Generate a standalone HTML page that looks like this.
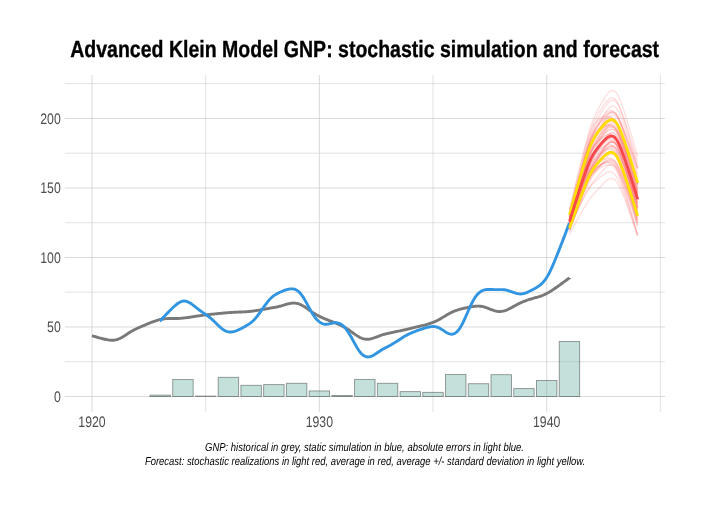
<!DOCTYPE html>
<html><head><meta charset="utf-8"><title>Advanced Klein Model GNP</title>
<style>
html,body{margin:0;padding:0;background:#fff;}
svg{display:block;}
text{font-family:"Liberation Sans",Arial,sans-serif;text-rendering:geometricPrecision;}
</style></head><body>
<svg width="705" height="508" viewBox="0 0 705 508">
<rect width="705" height="508" fill="#ffffff"/>

<g fill="none">
<line x1="64.8" x2="665.1" y1="396.50" y2="396.50" stroke="#cccccc" stroke-width="0.72"/>
<line x1="64.8" x2="665.1" y1="326.99" y2="326.99" stroke="#cccccc" stroke-width="0.72"/>
<line x1="64.8" x2="665.1" y1="257.48" y2="257.48" stroke="#cccccc" stroke-width="0.72"/>
<line x1="64.8" x2="665.1" y1="187.96" y2="187.96" stroke="#cccccc" stroke-width="0.72"/>
<line x1="64.8" x2="665.1" y1="118.45" y2="118.45" stroke="#cccccc" stroke-width="0.72"/>
<line x1="64.8" x2="665.1" y1="361.74" y2="361.74" stroke="#cccccc" stroke-width="0.55"/>
<line x1="64.8" x2="665.1" y1="292.23" y2="292.23" stroke="#cccccc" stroke-width="0.55"/>
<line x1="64.8" x2="665.1" y1="222.72" y2="222.72" stroke="#cccccc" stroke-width="0.55"/>
<line x1="64.8" x2="665.1" y1="153.21" y2="153.21" stroke="#cccccc" stroke-width="0.55"/>
<line x1="64.8" x2="665.1" y1="83.69" y2="83.69" stroke="#cccccc" stroke-width="0.55"/>
<line x1="92.00" x2="92.00" y1="75.0" y2="411.9" stroke="#cccccc" stroke-width="0.72"/>
<line x1="205.68" x2="205.68" y1="75.0" y2="411.9" stroke="#cccccc" stroke-width="0.55"/>
<line x1="319.35" x2="319.35" y1="75.0" y2="411.9" stroke="#cccccc" stroke-width="0.72"/>
<line x1="433.02" x2="433.02" y1="75.0" y2="411.9" stroke="#cccccc" stroke-width="0.55"/>
<line x1="546.70" x2="546.70" y1="75.0" y2="411.9" stroke="#cccccc" stroke-width="0.72"/>
<line x1="660.38" x2="660.38" y1="75.0" y2="411.9" stroke="#cccccc" stroke-width="0.55"/>
</g>
<g fill="rgba(105,179,162,0.4)" stroke="rgba(0,0,0,0.4)" stroke-width="0.9">
<rect x="149.97" y="395.11" width="20.46" height="1.39"/>
<rect x="172.71" y="379.54" width="20.46" height="16.96"/>
<rect x="195.44" y="396.08" width="20.46" height="0.42"/>
<rect x="218.18" y="377.31" width="20.46" height="19.19"/>
<rect x="240.91" y="385.31" width="20.46" height="11.19"/>
<rect x="263.65" y="384.61" width="20.46" height="11.89"/>
<rect x="286.38" y="383.29" width="20.46" height="13.21"/>
<rect x="309.12" y="390.94" width="20.46" height="5.56"/>
<rect x="331.85" y="395.53" width="20.46" height="0.97"/>
<rect x="354.59" y="379.40" width="20.46" height="17.10"/>
<rect x="377.32" y="383.29" width="20.46" height="13.21"/>
<rect x="400.06" y="391.63" width="20.46" height="4.87"/>
<rect x="422.79" y="392.33" width="20.46" height="4.17"/>
<rect x="445.53" y="374.40" width="20.46" height="22.10"/>
<rect x="468.26" y="383.71" width="20.46" height="12.79"/>
<rect x="491.00" y="374.67" width="20.46" height="21.83"/>
<rect x="513.73" y="388.58" width="20.46" height="7.92"/>
<rect x="536.47" y="380.51" width="20.46" height="15.99"/>
<rect x="559.20" y="341.45" width="20.46" height="55.05"/>
</g>
<path d="M92.00,335.75 L92.00,335.75 L92.04,335.76 L92.12,335.78 L92.28,335.83 L92.52,335.90 L92.86,336.01 L93.30,336.14 L93.86,336.31 L94.53,336.50 L95.31,336.73 L96.17,336.98 L97.13,337.25 L98.15,337.54 L99.22,337.83 L100.34,338.13 L101.47,338.43 L102.61,338.72 L103.74,338.99 L104.85,339.25 L105.93,339.48 L106.98,339.69 L107.99,339.87 L108.95,340.02 L109.88,340.14 L110.76,340.22 L111.61,340.26 L112.42,340.26 L113.21,340.23 L113.98,340.16 L114.73,340.06 L115.49,339.91 L116.25,339.73 L117.01,339.52 L117.77,339.27 L118.52,338.98 L119.28,338.67 L120.04,338.32 L120.80,337.94 L121.56,337.54 L122.31,337.12 L123.07,336.67 L123.83,336.21 L124.59,335.74 L125.34,335.25 L126.10,334.76 L126.86,334.26 L127.62,333.77 L128.38,333.28 L129.13,332.79 L129.89,332.31 L130.65,331.84 L131.41,331.38 L132.17,330.94 L132.92,330.51 L133.68,330.09 L134.44,329.69 L135.20,329.31 L135.95,328.94 L136.71,328.59 L137.47,328.24 L138.23,327.90 L138.99,327.56 L139.74,327.23 L140.50,326.91 L141.26,326.58 L142.02,326.26 L142.77,325.93 L143.53,325.61 L144.29,325.29 L145.05,324.97 L145.81,324.64 L146.56,324.32 L147.32,324.00 L148.08,323.69 L148.84,323.37 L149.60,323.06 L150.35,322.75 L151.11,322.44 L151.87,322.14 L152.63,321.85 L153.38,321.57 L154.14,321.29 L154.90,321.02 L155.66,320.76 L156.42,320.51 L157.17,320.28 L157.93,320.06 L158.69,319.85 L159.45,319.66 L160.20,319.48 L160.96,319.32 L161.72,319.17 L162.48,319.05 L163.24,318.94 L163.99,318.84 L164.75,318.76 L165.51,318.69 L166.27,318.64 L167.03,318.60 L167.78,318.57 L168.54,318.55 L169.30,318.53 L170.06,318.53 L170.81,318.52 L171.57,318.52 L172.33,318.53 L173.09,318.53 L173.85,318.53 L174.60,318.53 L175.36,318.52 L176.12,318.51 L176.88,318.49 L177.64,318.47 L178.39,318.44 L179.15,318.40 L179.91,318.35 L180.67,318.30 L181.42,318.23 L182.18,318.16 L182.94,318.09 L183.70,318.01 L184.46,317.93 L185.21,317.84 L185.97,317.75 L186.73,317.66 L187.49,317.56 L188.24,317.45 L189.00,317.35 L189.76,317.24 L190.52,317.12 L191.28,317.01 L192.03,316.89 L192.79,316.77 L193.55,316.65 L194.31,316.53 L195.07,316.41 L195.82,316.29 L196.58,316.17 L197.34,316.05 L198.10,315.93 L198.85,315.82 L199.61,315.70 L200.37,315.59 L201.13,315.48 L201.89,315.38 L202.64,315.27 L203.40,315.17 L204.16,315.08 L204.92,314.98 L205.68,314.89 L206.43,314.80 L207.19,314.72 L207.95,314.63 L208.71,314.55 L209.46,314.46 L210.22,314.38 L210.98,314.30 L211.74,314.22 L212.50,314.15 L213.25,314.07 L214.01,313.99 L214.77,313.92 L215.53,313.84 L216.28,313.77 L217.04,313.70 L217.80,313.62 L218.56,313.55 L219.32,313.48 L220.07,313.41 L220.83,313.33 L221.59,313.26 L222.35,313.19 L223.11,313.12 L223.86,313.06 L224.62,312.99 L225.38,312.92 L226.14,312.86 L226.89,312.79 L227.65,312.73 L228.41,312.67 L229.17,312.61 L229.93,312.55 L230.68,312.50 L231.44,312.45 L232.20,312.40 L232.96,312.35 L233.71,312.31 L234.47,312.27 L235.23,312.23 L235.99,312.20 L236.75,312.17 L237.50,312.13 L238.26,312.10 L239.02,312.07 L239.78,312.04 L240.54,312.01 L241.29,311.98 L242.05,311.95 L242.81,311.92 L243.57,311.88 L244.32,311.84 L245.08,311.80 L245.84,311.75 L246.60,311.70 L247.36,311.64 L248.11,311.58 L248.87,311.51 L249.63,311.44 L250.39,311.36 L251.14,311.28 L251.90,311.19 L252.66,311.10 L253.42,311.00 L254.18,310.89 L254.93,310.79 L255.69,310.67 L256.45,310.56 L257.21,310.44 L257.97,310.32 L258.72,310.19 L259.48,310.06 L260.24,309.93 L261.00,309.80 L261.75,309.67 L262.51,309.53 L263.27,309.40 L264.03,309.26 L264.79,309.12 L265.54,308.99 L266.30,308.85 L267.06,308.72 L267.82,308.58 L268.58,308.45 L269.33,308.31 L270.09,308.18 L270.85,308.05 L271.61,307.92 L272.36,307.79 L273.12,307.66 L273.88,307.52 L274.64,307.39 L275.40,307.25 L276.15,307.11 L276.91,306.96 L277.67,306.79 L278.43,306.62 L279.18,306.43 L279.94,306.23 L280.70,306.03 L281.46,305.81 L282.22,305.59 L282.97,305.36 L283.73,305.12 L284.49,304.89 L285.25,304.66 L286.01,304.43 L286.76,304.21 L287.52,304.00 L288.28,303.80 L289.04,303.63 L289.79,303.47 L290.55,303.33 L291.31,303.22 L292.07,303.14 L292.83,303.09 L293.58,303.07 L294.34,303.09 L295.10,303.14 L295.86,303.23 L296.62,303.35 L297.37,303.52 L298.13,303.72 L298.89,303.96 L299.65,304.24 L300.40,304.56 L301.16,304.91 L301.92,305.29 L302.68,305.70 L303.44,306.14 L304.19,306.60 L304.95,307.09 L305.71,307.59 L306.47,308.11 L307.22,308.63 L307.98,309.17 L308.74,309.70 L309.50,310.24 L310.26,310.78 L311.01,311.31 L311.77,311.83 L312.53,312.34 L313.29,312.84 L314.05,313.33 L314.80,313.79 L315.56,314.25 L316.32,314.68 L317.08,315.10 L317.83,315.51 L318.59,315.90 L319.35,316.28 L320.11,316.66 L320.87,317.02 L321.62,317.38 L322.38,317.73 L323.14,318.07 L323.90,318.41 L324.65,318.73 L325.41,319.05 L326.17,319.36 L326.93,319.67 L327.69,319.97 L328.44,320.27 L329.20,320.56 L329.96,320.85 L330.72,321.14 L331.48,321.43 L332.23,321.72 L332.99,322.02 L333.75,322.32 L334.51,322.62 L335.26,322.92 L336.02,323.24 L336.78,323.55 L337.54,323.88 L338.30,324.22 L339.05,324.56 L339.81,324.91 L340.57,325.27 L341.33,325.64 L342.08,326.01 L342.84,326.40 L343.60,326.79 L344.36,327.20 L345.12,327.63 L345.87,328.07 L346.63,328.53 L347.39,329.01 L348.15,329.50 L348.91,330.01 L349.66,330.53 L350.42,331.07 L351.18,331.61 L351.94,332.16 L352.69,332.71 L353.45,333.27 L354.21,333.81 L354.97,334.35 L355.73,334.88 L356.48,335.39 L357.24,335.88 L358.00,336.35 L358.76,336.80 L359.52,337.21 L360.27,337.59 L361.03,337.94 L361.79,338.25 L362.55,338.52 L363.30,338.75 L364.06,338.94 L364.82,339.08 L365.58,339.19 L366.34,339.25 L367.09,339.27 L367.85,339.26 L368.61,339.20 L369.37,339.11 L370.12,338.99 L370.88,338.83 L371.64,338.65 L372.40,338.44 L373.16,338.22 L373.91,337.97 L374.67,337.71 L375.43,337.43 L376.19,337.15 L376.95,336.86 L377.70,336.57 L378.46,336.28 L379.22,336.00 L379.98,335.72 L380.73,335.45 L381.49,335.19 L382.25,334.94 L383.01,334.71 L383.77,334.48 L384.52,334.27 L385.28,334.07 L386.04,333.88 L386.80,333.70 L387.56,333.52 L388.31,333.35 L389.07,333.17 L389.83,333.00 L390.59,332.83 L391.34,332.66 L392.10,332.49 L392.86,332.33 L393.62,332.16 L394.38,332.00 L395.13,331.84 L395.89,331.68 L396.65,331.52 L397.41,331.36 L398.16,331.20 L398.92,331.05 L399.68,330.89 L400.44,330.73 L401.20,330.57 L401.95,330.41 L402.71,330.25 L403.47,330.08 L404.23,329.92 L404.99,329.75 L405.74,329.58 L406.50,329.41 L407.26,329.24 L408.02,329.06 L408.77,328.88 L409.53,328.70 L410.29,328.52 L411.05,328.33 L411.81,328.14 L412.56,327.95 L413.32,327.77 L414.08,327.58 L414.84,327.39 L415.59,327.21 L416.35,327.03 L417.11,326.85 L417.87,326.67 L418.63,326.49 L419.38,326.31 L420.14,326.13 L420.90,325.96 L421.66,325.78 L422.42,325.60 L423.17,325.41 L423.93,325.23 L424.69,325.03 L425.45,324.84 L426.20,324.63 L426.96,324.42 L427.72,324.21 L428.48,323.98 L429.24,323.74 L429.99,323.50 L430.75,323.24 L431.51,322.97 L432.27,322.69 L433.02,322.40 L433.78,322.09 L434.54,321.77 L435.30,321.44 L436.06,321.09 L436.81,320.72 L437.57,320.34 L438.33,319.95 L439.09,319.54 L439.85,319.12 L440.60,318.68 L441.36,318.24 L442.12,317.79 L442.88,317.33 L443.63,316.87 L444.39,316.41 L445.15,315.95 L445.91,315.49 L446.67,315.04 L447.42,314.59 L448.18,314.15 L448.94,313.73 L449.70,313.31 L450.46,312.91 L451.21,312.53 L451.97,312.16 L452.73,311.81 L453.49,311.47 L454.24,311.16 L455.00,310.86 L455.76,310.58 L456.52,310.32 L457.28,310.07 L458.03,309.83 L458.79,309.61 L459.55,309.39 L460.31,309.18 L461.06,308.98 L461.82,308.79 L462.58,308.60 L463.34,308.41 L464.10,308.23 L464.85,308.06 L465.61,307.89 L466.37,307.72 L467.13,307.56 L467.89,307.40 L468.64,307.25 L469.40,307.10 L470.16,306.96 L470.92,306.82 L471.67,306.70 L472.43,306.58 L473.19,306.48 L473.95,306.38 L474.71,306.30 L475.46,306.23 L476.22,306.18 L476.98,306.15 L477.74,306.13 L478.50,306.13 L479.25,306.16 L480.01,306.21 L480.77,306.28 L481.53,306.39 L482.28,306.52 L483.04,306.68 L483.80,306.87 L484.56,307.08 L485.32,307.31 L486.07,307.57 L486.83,307.84 L487.59,308.13 L488.35,308.43 L489.10,308.73 L489.86,309.04 L490.62,309.34 L491.38,309.64 L492.14,309.93 L492.89,310.20 L493.65,310.46 L494.41,310.70 L495.17,310.91 L495.93,311.09 L496.68,311.24 L497.44,311.36 L498.20,311.45 L498.96,311.49 L499.71,311.50 L500.47,311.48 L501.23,311.42 L501.99,311.32 L502.75,311.19 L503.50,311.03 L504.26,310.83 L505.02,310.60 L505.78,310.34 L506.53,310.05 L507.29,309.74 L508.05,309.40 L508.81,309.04 L509.57,308.67 L510.32,308.27 L511.08,307.87 L511.84,307.45 L512.60,307.03 L513.36,306.61 L514.11,306.18 L514.87,305.75 L515.63,305.33 L516.39,304.92 L517.14,304.52 L517.90,304.12 L518.66,303.74 L519.42,303.37 L520.18,303.01 L520.93,302.67 L521.69,302.34 L522.45,302.02 L523.21,301.71 L523.96,301.41 L524.72,301.11 L525.48,300.82 L526.24,300.54 L527.00,300.26 L527.75,300.00 L528.51,299.74 L529.27,299.49 L530.03,299.25 L530.79,299.01 L531.54,298.79 L532.30,298.56 L533.06,298.35 L533.82,298.13 L534.57,297.92 L535.33,297.71 L536.09,297.49 L536.85,297.27 L537.61,297.05 L538.36,296.82 L539.12,296.58 L539.88,296.34 L540.64,296.08 L541.40,295.81 L542.15,295.53 L542.91,295.23 L543.67,294.91 L544.43,294.58 L545.18,294.23 L545.94,293.87 L546.70,293.48 L547.46,293.08 L548.23,292.66 L549.02,292.20 L549.83,291.72 L550.68,291.19 L551.56,290.63 L552.48,290.03 L553.45,289.38 L554.46,288.70 L555.50,287.97 L556.59,287.22 L557.70,286.44 L558.83,285.63 L559.97,284.82 L561.10,284.00 L562.21,283.20 L563.29,282.42 L564.31,281.68 L565.26,280.98 L566.13,280.34 L566.90,279.78 L567.57,279.29 L568.13,278.87 L568.58,278.54 L568.92,278.29 L569.16,278.12 L569.31,278.00 L569.40,277.94 L569.43,277.92 L569.43,277.91" fill="none" stroke="#797979" stroke-width="2.9"/>
<path d="M160.20,320.87 L160.21,320.87 L160.24,320.83 L160.33,320.74 L160.48,320.57 L160.72,320.30 L161.06,319.93 L161.51,319.44 L162.07,318.83 L162.74,318.11 L163.51,317.27 L164.38,316.34 L165.33,315.33 L166.35,314.25 L167.43,313.13 L168.54,311.98 L169.67,310.83 L170.81,309.69 L171.94,308.58 L173.05,307.52 L174.14,306.52 L175.18,305.59 L176.19,304.74 L177.16,303.97 L178.08,303.29 L178.96,302.71 L179.81,302.21 L180.62,301.81 L181.41,301.50 L182.18,301.27 L182.94,301.13 L183.70,301.06 L184.46,301.06 L185.21,301.13 L185.97,301.27 L186.73,301.48 L187.49,301.74 L188.24,302.06 L189.00,302.44 L189.76,302.85 L190.52,303.32 L191.28,303.81 L192.03,304.34 L192.79,304.90 L193.55,305.47 L194.31,306.06 L195.07,306.66 L195.82,307.27 L196.58,307.88 L197.34,308.48 L198.10,309.08 L198.85,309.67 L199.61,310.25 L200.37,310.82 L201.13,311.37 L201.89,311.91 L202.64,312.43 L203.40,312.95 L204.16,313.46 L204.92,313.97 L205.68,314.48 L206.43,314.99 L207.19,315.52 L207.95,316.07 L208.71,316.65 L209.46,317.24 L210.22,317.86 L210.98,318.50 L211.74,319.16 L212.50,319.85 L213.25,320.55 L214.01,321.27 L214.77,322.00 L215.53,322.74 L216.28,323.49 L217.04,324.23 L217.80,324.97 L218.56,325.69 L219.32,326.40 L220.07,327.08 L220.83,327.74 L221.59,328.37 L222.35,328.95 L223.11,329.50 L223.86,330.00 L224.62,330.45 L225.38,330.84 L226.14,331.19 L226.89,331.47 L227.65,331.69 L228.41,331.85 L229.17,331.96 L229.93,332.01 L230.68,332.00 L231.44,331.95 L232.20,331.86 L232.96,331.72 L233.71,331.55 L234.47,331.34 L235.23,331.11 L235.99,330.85 L236.75,330.56 L237.50,330.25 L238.26,329.93 L239.02,329.59 L239.78,329.23 L240.54,328.87 L241.29,328.49 L242.05,328.10 L242.81,327.70 L243.57,327.30 L244.32,326.88 L245.08,326.46 L245.84,326.02 L246.60,325.57 L247.36,325.11 L248.11,324.63 L248.87,324.13 L249.63,323.61 L250.39,323.05 L251.14,322.47 L251.90,321.85 L252.66,321.18 L253.42,320.47 L254.18,319.71 L254.93,318.90 L255.69,318.05 L256.45,317.16 L257.21,316.22 L257.97,315.24 L258.72,314.23 L259.48,313.20 L260.24,312.14 L261.00,311.06 L261.75,309.97 L262.51,308.87 L263.27,307.78 L264.03,306.69 L264.79,305.62 L265.54,304.56 L266.30,303.54 L267.06,302.54 L267.82,301.58 L268.58,300.66 L269.33,299.79 L270.09,298.97 L270.85,298.20 L271.61,297.48 L272.36,296.81 L273.12,296.20 L273.88,295.64 L274.64,295.12 L275.40,294.64 L276.15,294.20 L276.91,293.78 L277.67,293.39 L278.43,293.01 L279.18,292.65 L279.94,292.30 L280.70,291.97 L281.46,291.64 L282.22,291.32 L282.97,291.01 L283.73,290.71 L284.49,290.42 L285.25,290.15 L286.01,289.89 L286.76,289.65 L287.52,289.44 L288.28,289.25 L289.04,289.09 L289.79,288.96 L290.55,288.88 L291.31,288.83 L292.07,288.84 L292.83,288.89 L293.58,289.01 L294.34,289.19 L295.10,289.43 L295.86,289.75 L296.62,290.15 L297.37,290.62 L298.13,291.19 L298.89,291.85 L299.65,292.60 L300.40,293.44 L301.16,294.36 L301.92,295.38 L302.68,296.47 L303.44,297.63 L304.19,298.85 L304.95,300.13 L305.71,301.45 L306.47,302.81 L307.22,304.19 L307.98,305.59 L308.74,306.99 L309.50,308.38 L310.26,309.75 L311.01,311.09 L311.77,312.39 L312.53,313.64 L313.29,314.84 L314.05,315.98 L314.80,317.04 L315.56,318.03 L316.32,318.95 L317.08,319.78 L317.83,320.54 L318.59,321.23 L319.35,321.84 L320.11,322.39 L320.87,322.87 L321.62,323.28 L322.38,323.62 L323.14,323.88 L323.90,324.07 L324.65,324.20 L325.41,324.26 L326.17,324.26 L326.93,324.21 L327.69,324.12 L328.44,323.99 L329.20,323.83 L329.96,323.65 L330.72,323.47 L331.48,323.28 L332.23,323.11 L332.99,322.95 L333.75,322.82 L334.51,322.72 L335.26,322.67 L336.02,322.67 L336.78,322.73 L337.54,322.85 L338.30,323.04 L339.05,323.30 L339.81,323.63 L340.57,324.03 L341.33,324.50 L342.08,325.04 L342.84,325.65 L343.60,326.32 L344.36,327.07 L345.12,327.90 L345.87,328.80 L346.63,329.79 L347.39,330.84 L348.15,331.97 L348.91,333.17 L349.66,334.42 L350.42,335.72 L351.18,337.05 L351.94,338.42 L352.69,339.81 L353.45,341.20 L354.21,342.60 L354.97,343.97 L355.73,345.32 L356.48,346.64 L357.24,347.90 L358.00,349.11 L358.76,350.25 L359.52,351.31 L360.27,352.29 L361.03,353.18 L361.79,353.97 L362.55,354.67 L363.30,355.27 L364.06,355.78 L364.82,356.18 L365.58,356.50 L366.34,356.73 L367.09,356.87 L367.85,356.93 L368.61,356.90 L369.37,356.81 L370.12,356.64 L370.88,356.41 L371.64,356.12 L372.40,355.78 L373.16,355.40 L373.91,354.98 L374.67,354.52 L375.43,354.04 L376.19,353.54 L376.95,353.03 L377.70,352.51 L378.46,351.99 L379.22,351.48 L379.98,350.97 L380.73,350.48 L381.49,350.00 L382.25,349.54 L383.01,349.09 L383.77,348.67 L384.52,348.26 L385.28,347.87 L386.04,347.48 L386.80,347.11 L387.56,346.73 L388.31,346.34 L389.07,345.95 L389.83,345.54 L390.59,345.13 L391.34,344.70 L392.10,344.26 L392.86,343.81 L393.62,343.35 L394.38,342.88 L395.13,342.40 L395.89,341.92 L396.65,341.43 L397.41,340.93 L398.16,340.43 L398.92,339.93 L399.68,339.43 L400.44,338.94 L401.20,338.45 L401.95,337.96 L402.71,337.48 L403.47,337.01 L404.23,336.55 L404.99,336.11 L405.74,335.67 L406.50,335.25 L407.26,334.85 L408.02,334.46 L408.77,334.08 L409.53,333.73 L410.29,333.38 L411.05,333.05 L411.81,332.74 L412.56,332.43 L413.32,332.13 L414.08,331.83 L414.84,331.54 L415.59,331.26 L416.35,330.98 L417.11,330.69 L417.87,330.42 L418.63,330.14 L419.38,329.87 L420.14,329.59 L420.90,329.33 L421.66,329.06 L422.42,328.81 L423.17,328.56 L423.93,328.31 L424.69,328.08 L425.45,327.86 L426.20,327.64 L426.96,327.45 L427.72,327.27 L428.48,327.10 L429.24,326.96 L429.99,326.83 L430.75,326.73 L431.51,326.65 L432.27,326.60 L433.02,326.57 L433.78,326.57 L434.54,326.62 L435.30,326.70 L436.06,326.84 L436.81,327.02 L437.57,327.26 L438.33,327.55 L439.09,327.89 L439.85,328.27 L440.60,328.69 L441.36,329.15 L442.12,329.63 L442.88,330.13 L443.63,330.64 L444.39,331.15 L445.15,331.66 L445.91,332.14 L446.67,332.59 L447.42,333.01 L448.18,333.38 L448.94,333.69 L449.70,333.93 L450.46,334.10 L451.21,334.18 L451.97,334.18 L452.73,334.08 L453.49,333.89 L454.24,333.59 L455.00,333.19 L455.76,332.69 L456.52,332.08 L457.28,331.37 L458.03,330.55 L458.79,329.61 L459.55,328.56 L460.31,327.41 L461.06,326.15 L461.82,324.79 L462.58,323.35 L463.34,321.83 L464.10,320.25 L464.85,318.61 L465.61,316.92 L466.37,315.21 L467.13,313.48 L467.89,311.75 L468.64,310.02 L469.40,308.33 L470.16,306.66 L470.92,305.05 L471.67,303.50 L472.43,302.01 L473.19,300.61 L473.95,299.29 L474.71,298.06 L475.46,296.93 L476.22,295.89 L476.98,294.95 L477.74,294.10 L478.50,293.34 L479.25,292.66 L480.01,292.06 L480.77,291.53 L481.53,291.08 L482.28,290.69 L483.04,290.36 L483.80,290.09 L484.56,289.88 L485.32,289.71 L486.07,289.59 L486.83,289.51 L487.59,289.45 L488.35,289.43 L489.10,289.43 L489.86,289.44 L490.62,289.47 L491.38,289.50 L492.14,289.54 L492.89,289.57 L493.65,289.61 L494.41,289.63 L495.17,289.65 L495.93,289.66 L496.68,289.67 L497.44,289.66 L498.20,289.65 L498.96,289.63 L499.71,289.61 L500.47,289.59 L501.23,289.59 L501.99,289.60 L502.75,289.63 L503.50,289.69 L504.26,289.77 L505.02,289.88 L505.78,290.01 L506.53,290.17 L507.29,290.36 L508.05,290.57 L508.81,290.79 L509.57,291.04 L510.32,291.30 L511.08,291.56 L511.84,291.84 L512.60,292.11 L513.36,292.38 L514.11,292.64 L514.87,292.89 L515.63,293.13 L516.39,293.34 L517.14,293.52 L517.90,293.68 L518.66,293.80 L519.42,293.88 L520.18,293.93 L520.93,293.93 L521.69,293.88 L522.45,293.80 L523.21,293.66 L523.96,293.48 L524.72,293.26 L525.48,293.00 L526.24,292.71 L527.00,292.40 L527.75,292.07 L528.51,291.73 L529.27,291.37 L530.03,291.01 L530.79,290.64 L531.54,290.26 L532.30,289.87 L533.06,289.48 L533.82,289.07 L534.57,288.66 L535.33,288.23 L536.09,287.79 L536.85,287.32 L537.61,286.84 L538.36,286.32 L539.12,285.78 L539.88,285.20 L540.64,284.57 L541.40,283.90 L542.15,283.18 L542.91,282.40 L543.67,281.57 L544.43,280.66 L545.18,279.68 L545.94,278.63 L546.70,277.49 L547.46,276.27 L548.23,274.94 L549.02,273.48 L549.83,271.88 L550.68,270.13 L551.56,268.22 L552.48,266.14 L553.45,263.90 L554.46,261.51 L555.50,258.97 L556.59,256.30 L557.70,253.52 L558.83,250.65 L559.97,247.74 L561.10,244.82 L562.21,241.94 L563.29,239.13 L564.31,236.45 L565.26,233.95 L566.13,231.65 L566.90,229.60 L567.57,227.83 L568.13,226.34 L568.58,225.15 L568.92,224.24 L569.16,223.59 L569.31,223.18 L569.40,222.96 L569.43,222.87 L569.43,222.86" fill="none" stroke="#3295e2" stroke-width="2.9"/>
<g fill="none" stroke="rgba(255,110,110,0.21)" stroke-width="1.4">
<path d="M569.43,234.32 L569.45,234.29 L569.56,234.10 L569.82,233.61 L570.29,232.74 L571.01,231.42 L571.97,229.65 L573.16,227.45 L574.56,224.89 L576.12,222.06 L577.77,219.06 L579.47,216.01 L581.17,213.00 L582.83,210.10 L584.41,207.38 L585.91,204.88 L587.31,202.62 L588.62,200.60 L589.85,198.81 L591.03,197.22 L592.17,195.80 L593.31,194.48 L594.44,193.24 L595.58,192.03 L596.72,190.82 L597.85,189.60 L598.99,188.37 L600.13,187.13 L601.26,185.88 L602.40,184.65 L603.54,183.45 L604.67,182.30 L605.81,181.25 L606.95,180.32 L608.08,179.54 L609.22,178.95 L610.36,178.58 L611.49,178.46 L612.63,178.63 L613.77,179.12 L614.90,179.94 L616.05,181.14 L617.22,182.75 L618.45,184.84 L619.76,187.43 L621.17,190.51 L622.66,194.07 L624.25,198.06 L625.90,202.41 L627.60,207.02 L629.30,211.73 L630.96,216.40 L632.51,220.83 L633.91,224.87 L635.11,228.35 L636.07,231.16 L636.78,233.26 L637.26,234.66 L637.52,235.44 L637.62,235.75 L637.64,235.80"/>
<path d="M569.43,225.42 L569.45,225.39 L569.56,225.17 L569.82,224.64 L570.29,223.69 L571.01,222.25 L571.97,220.32 L573.16,217.93 L574.56,215.15 L576.12,212.08 L577.77,208.83 L579.47,205.53 L581.17,202.28 L582.83,199.18 L584.41,196.27 L585.91,193.63 L587.31,191.26 L588.62,189.17 L589.85,187.35 L591.03,185.78 L592.17,184.43 L593.31,183.22 L594.44,182.13 L595.58,181.10 L596.72,180.12 L597.85,179.17 L598.99,178.23 L600.13,177.30 L601.26,176.39 L602.40,175.51 L603.54,174.67 L604.67,173.90 L605.81,173.21 L606.95,172.64 L608.08,172.22 L609.22,171.97 L610.36,171.94 L611.49,172.14 L612.63,172.62 L613.77,173.40 L614.90,174.51 L616.05,175.99 L617.22,177.90 L618.45,180.30 L619.76,183.20 L621.17,186.63 L622.66,190.55 L624.25,194.93 L625.90,199.68 L627.60,204.69 L629.30,209.82 L630.96,214.88 L632.51,219.69 L633.91,224.06 L635.11,227.83 L636.07,230.87 L636.78,233.14 L637.26,234.65 L637.52,235.50 L637.62,235.83 L637.64,235.88"/>
<path d="M569.43,226.07 L569.45,226.03 L569.56,225.76 L569.82,225.08 L570.29,223.87 L571.01,222.05 L571.97,219.60 L573.16,216.57 L574.56,213.05 L576.12,209.16 L577.77,205.06 L579.47,200.90 L581.17,196.81 L582.83,192.90 L584.41,189.27 L585.91,185.97 L587.31,183.04 L588.62,180.49 L589.85,178.30 L591.03,176.45 L592.17,174.88 L593.31,173.55 L594.44,172.38 L595.58,171.36 L596.72,170.43 L597.85,169.58 L598.99,168.79 L600.13,168.06 L601.26,167.37 L602.40,166.74 L603.54,166.16 L604.67,165.66 L605.81,165.25 L606.95,164.96 L608.08,164.80 L609.22,164.81 L610.36,165.01 L611.49,165.45 L612.63,166.14 L613.77,167.13 L614.90,168.46 L616.05,170.15 L617.22,172.29 L618.45,174.93 L619.76,178.11 L621.17,181.83 L622.66,186.08 L624.25,190.80 L625.90,195.92 L627.60,201.31 L629.30,206.81 L630.96,212.25 L632.51,217.41 L633.91,222.10 L635.11,226.13 L636.07,229.40 L636.78,231.83 L637.26,233.44 L637.52,234.35 L637.62,234.71 L637.64,234.76"/>
<path d="M569.43,232.00 L569.45,231.95 L569.56,231.64 L569.82,230.86 L570.29,229.45 L571.01,227.35 L571.97,224.52 L573.16,221.01 L574.56,216.94 L576.12,212.44 L577.77,207.70 L579.47,202.88 L581.17,198.15 L582.83,193.64 L584.41,189.44 L585.91,185.63 L587.31,182.25 L588.62,179.30 L589.85,176.78 L591.03,174.65 L592.17,172.85 L593.31,171.33 L594.44,170.01 L595.58,168.85 L596.72,167.83 L597.85,166.91 L598.99,166.08 L600.13,165.32 L601.26,164.62 L602.40,163.99 L603.54,163.42 L604.67,162.94 L605.81,162.55 L606.95,162.28 L608.08,162.14 L609.22,162.18 L610.36,162.41 L611.49,162.87 L612.63,163.59 L613.77,164.62 L614.90,165.98 L616.05,167.73 L617.22,169.95 L618.45,172.69 L619.76,175.98 L621.17,179.84 L622.66,184.24 L624.25,189.14 L625.90,194.45 L627.60,200.04 L629.30,205.75 L630.96,211.39 L632.51,216.74 L633.91,221.60 L635.11,225.79 L636.07,229.18 L636.78,231.70 L637.26,233.38 L637.52,234.31 L637.62,234.69 L637.64,234.74"/>
<path d="M569.43,228.13 L569.45,228.10 L569.56,227.87 L569.82,227.29 L570.29,226.26 L571.01,224.71 L571.97,222.63 L573.16,220.04 L574.56,217.03 L576.12,213.71 L577.77,210.19 L579.47,206.60 L581.17,203.06 L582.83,199.67 L584.41,196.49 L585.91,193.57 L587.31,190.93 L588.62,188.58 L589.85,186.51 L591.03,184.68 L592.17,183.05 L593.31,181.57 L594.44,180.17 L595.58,178.83 L596.72,177.51 L597.85,176.20 L598.99,174.88 L600.13,173.57 L601.26,172.26 L602.40,170.97 L603.54,169.72 L604.67,168.53 L605.81,167.45 L606.95,166.49 L608.08,165.69 L609.22,165.09 L610.36,164.72 L611.49,164.62 L612.63,164.82 L613.77,165.36 L614.90,166.26 L616.05,167.55 L617.22,169.30 L618.45,171.56 L619.76,174.35 L621.17,177.68 L622.66,181.52 L624.25,185.83 L625.90,190.52 L627.60,195.49 L629.30,200.57 L630.96,205.60 L632.51,210.39 L633.91,214.74 L635.11,218.49 L636.07,221.52 L636.78,223.79 L637.26,225.29 L637.52,226.13 L637.62,226.47 L637.64,226.52"/>
<path d="M569.43,230.11 L569.45,230.06 L569.56,229.77 L569.82,229.04 L570.29,227.72 L571.01,225.75 L571.97,223.10 L573.16,219.81 L574.56,215.99 L576.12,211.78 L577.77,207.32 L579.47,202.79 L581.17,198.34 L582.83,194.08 L584.41,190.11 L585.91,186.49 L587.31,183.26 L588.62,180.43 L589.85,177.97 L591.03,175.87 L592.17,174.06 L593.31,172.48 L594.44,171.07 L595.58,169.79 L596.72,168.61 L597.85,167.51 L598.99,166.47 L600.13,165.47 L601.26,164.53 L602.40,163.64 L603.54,162.80 L604.67,162.04 L605.81,161.38 L606.95,160.83 L608.08,160.42 L609.22,160.18 L610.36,160.14 L611.49,160.34 L612.63,160.80 L613.77,161.57 L614.90,162.67 L616.05,164.15 L617.22,166.07 L618.45,168.50 L619.76,171.45 L621.17,174.94 L622.66,178.94 L624.25,183.40 L625.90,188.25 L627.60,193.37 L629.30,198.61 L630.96,203.78 L632.51,208.70 L633.91,213.17 L635.11,217.02 L636.07,220.13 L636.78,222.45 L637.26,224.00 L637.52,224.86 L637.62,225.20 L637.64,225.26"/>
<path d="M569.43,225.40 L569.45,225.36 L569.56,225.08 L569.82,224.36 L570.29,223.08 L571.01,221.16 L571.97,218.57 L573.16,215.37 L574.56,211.65 L576.12,207.55 L577.77,203.22 L579.47,198.83 L581.17,194.51 L582.83,190.40 L584.41,186.57 L585.91,183.10 L587.31,180.02 L588.62,177.33 L589.85,175.04 L591.03,173.10 L592.17,171.48 L593.31,170.10 L594.44,168.92 L595.58,167.89 L596.72,167.00 L597.85,166.22 L598.99,165.52 L600.13,164.90 L601.26,164.34 L602.40,163.84 L603.54,163.41 L604.67,163.04 L605.81,162.76 L606.95,162.57 L608.08,162.49 L609.22,162.54 L610.36,162.74 L611.49,163.13 L612.63,163.72 L613.77,164.56 L614.90,165.68 L616.05,167.11 L617.22,168.92 L618.45,171.16 L619.76,173.86 L621.17,177.02 L622.66,180.63 L624.25,184.64 L625.90,188.99 L627.60,193.57 L629.30,198.26 L630.96,202.88 L632.51,207.27 L633.91,211.25 L635.11,214.69 L636.07,217.46 L636.78,219.53 L637.26,220.90 L637.52,221.67 L637.62,221.98 L637.64,222.02"/>
<path d="M569.43,230.38 L569.45,230.33 L569.56,230.04 L569.82,229.32 L570.29,228.01 L571.01,226.04 L571.97,223.41 L573.16,220.13 L574.56,216.33 L576.12,212.13 L577.77,207.70 L579.47,203.19 L581.17,198.76 L582.83,194.52 L584.41,190.57 L585.91,186.96 L587.31,183.75 L588.62,180.92 L589.85,178.48 L591.03,176.38 L592.17,174.57 L593.31,172.99 L594.44,171.59 L595.58,170.32 L596.72,169.16 L597.85,168.08 L598.99,167.07 L600.13,166.12 L601.26,165.21 L602.40,164.37 L603.54,163.58 L604.67,162.86 L605.81,162.22 L606.95,161.69 L608.08,161.29 L609.22,161.04 L610.36,160.96 L611.49,161.10 L612.63,161.47 L613.77,162.12 L614.90,163.07 L616.05,164.37 L617.22,166.08 L618.45,168.24 L619.76,170.87 L621.17,173.99 L622.66,177.58 L624.25,181.58 L625.90,185.94 L627.60,190.54 L629.30,195.24 L630.96,199.90 L632.51,204.32 L633.91,208.34 L635.11,211.80 L636.07,214.60 L636.78,216.69 L637.26,218.07 L637.52,218.85 L637.62,219.16 L637.64,219.21"/>
<path d="M569.43,226.43 L569.45,226.39 L569.56,226.12 L569.82,225.43 L570.29,224.21 L571.01,222.38 L571.97,219.91 L573.16,216.86 L574.56,213.30 L576.12,209.37 L577.77,205.23 L579.47,201.00 L581.17,196.85 L582.83,192.87 L584.41,189.16 L585.91,185.77 L587.31,182.74 L588.62,180.06 L589.85,177.74 L591.03,175.72 L592.17,173.97 L593.31,172.43 L594.44,171.03 L595.58,169.74 L596.72,168.53 L597.85,167.37 L598.99,166.26 L600.13,165.19 L601.26,164.16 L602.40,163.16 L603.54,162.22 L604.67,161.35 L605.81,160.57 L606.95,159.91 L608.08,159.38 L609.22,159.03 L610.36,158.88 L611.49,158.96 L612.63,159.30 L613.77,159.95 L614.90,160.92 L616.05,162.26 L617.22,164.04 L618.45,166.30 L619.76,169.06 L621.17,172.34 L622.66,176.10 L624.25,180.32 L625.90,184.90 L627.60,189.74 L629.30,194.70 L630.96,199.60 L632.51,204.25 L633.91,208.49 L635.11,212.14 L636.07,215.09 L636.78,217.28 L637.26,218.75 L637.52,219.57 L637.62,219.89 L637.64,219.94"/>
<path d="M569.43,230.16 L569.45,230.12 L569.56,229.85 L569.82,229.18 L570.29,227.98 L571.01,226.18 L571.97,223.76 L573.16,220.75 L574.56,217.24 L576.12,213.37 L577.77,209.27 L579.47,205.10 L581.17,200.97 L582.83,197.01 L584.41,193.29 L585.91,189.87 L587.31,186.78 L588.62,184.01 L589.85,181.56 L591.03,179.39 L592.17,177.44 L593.31,175.65 L594.44,173.95 L595.58,172.31 L596.72,170.69 L597.85,169.07 L598.99,167.45 L600.13,165.82 L601.26,164.19 L602.40,162.59 L603.54,161.03 L604.67,159.54 L605.81,158.16 L606.95,156.93 L608.08,155.89 L609.22,155.07 L610.36,154.52 L611.49,154.28 L612.63,154.39 L613.77,154.88 L614.90,155.78 L616.05,157.14 L617.22,159.02 L618.45,161.47 L619.76,164.52 L621.17,168.17 L622.66,172.40 L624.25,177.15 L625.90,182.34 L627.60,187.83 L629.30,193.46 L630.96,199.04 L632.51,204.34 L633.91,209.16 L635.11,213.32 L636.07,216.69 L636.78,219.20 L637.26,220.87 L637.52,221.80 L637.62,222.17 L637.64,222.23"/>
<path d="M569.43,221.18 L569.45,221.14 L569.56,220.86 L569.82,220.15 L570.29,218.87 L571.01,216.96 L571.97,214.38 L573.16,211.20 L574.56,207.49 L576.12,203.41 L577.77,199.10 L579.47,194.72 L581.17,190.42 L582.83,186.31 L584.41,182.50 L585.91,179.03 L587.31,175.96 L588.62,173.28 L589.85,170.99 L591.03,169.05 L592.17,167.42 L593.31,166.03 L594.44,164.83 L595.58,163.80 L596.72,162.90 L597.85,162.11 L598.99,161.40 L600.13,160.77 L601.26,160.21 L602.40,159.70 L603.54,159.26 L604.67,158.89 L605.81,158.60 L606.95,158.39 L608.08,158.28 L609.22,158.30 L610.36,158.47 L611.49,158.80 L612.63,159.34 L613.77,160.10 L614.90,161.13 L616.05,162.46 L617.22,164.15 L618.45,166.25 L619.76,168.78 L621.17,171.76 L622.66,175.15 L624.25,178.93 L625.90,183.03 L627.60,187.35 L629.30,191.77 L630.96,196.12 L632.51,200.26 L633.91,204.02 L635.11,207.26 L636.07,209.88 L636.78,211.83 L637.26,213.13 L637.52,213.86 L637.62,214.14 L637.64,214.19"/>
<path d="M569.43,229.62 L569.45,229.57 L569.56,229.26 L569.82,228.48 L570.29,227.08 L571.01,224.98 L571.97,222.15 L573.16,218.64 L574.56,214.56 L576.12,210.06 L577.77,205.30 L579.47,200.46 L581.17,195.69 L582.83,191.13 L584.41,186.87 L585.91,182.98 L587.31,179.49 L588.62,176.41 L589.85,173.73 L591.03,171.41 L592.17,169.39 L593.31,167.60 L594.44,165.97 L595.58,164.46 L596.72,163.04 L597.85,161.68 L598.99,160.35 L600.13,159.07 L601.26,157.82 L602.40,156.63 L603.54,155.49 L604.67,154.43 L605.81,153.48 L606.95,152.67 L608.08,152.03 L609.22,151.60 L610.36,151.40 L611.49,151.49 L612.63,151.90 L613.77,152.67 L614.90,153.83 L616.05,155.44 L617.22,157.56 L618.45,160.25 L619.76,163.55 L621.17,167.46 L622.66,171.96 L624.25,176.99 L625.90,182.46 L627.60,188.23 L629.30,194.15 L630.96,199.99 L632.51,205.55 L633.91,210.60 L635.11,214.96 L636.07,218.48 L636.78,221.10 L637.26,222.85 L637.52,223.83 L637.62,224.22 L637.64,224.28"/>
<path d="M569.43,226.02 L569.45,225.97 L569.56,225.69 L569.82,224.97 L570.29,223.67 L571.01,221.73 L571.97,219.12 L573.16,215.88 L574.56,212.11 L576.12,207.94 L577.77,203.54 L579.47,199.05 L581.17,194.62 L582.83,190.38 L584.41,186.40 L585.91,182.75 L587.31,179.46 L588.62,176.54 L589.85,173.96 L591.03,171.70 L592.17,169.70 L593.31,167.87 L594.44,166.18 L595.58,164.56 L596.72,162.98 L597.85,161.43 L598.99,159.89 L600.13,158.36 L601.26,156.84 L602.40,155.36 L603.54,153.93 L604.67,152.57 L605.81,151.33 L606.95,150.23 L608.08,149.32 L609.22,148.63 L610.36,148.20 L611.49,148.08 L612.63,148.31 L613.77,148.91 L614.90,149.93 L616.05,151.41 L617.22,153.41 L618.45,156.00 L619.76,159.20 L621.17,163.03 L622.66,167.44 L624.25,172.39 L625.90,177.79 L627.60,183.49 L629.30,189.34 L630.96,195.13 L632.51,200.63 L633.91,205.63 L635.11,209.95 L636.07,213.44 L636.78,216.04 L637.26,217.77 L637.52,218.74 L637.62,219.13 L637.64,219.19"/>
<path d="M569.43,222.03 L569.45,221.99 L569.56,221.74 L569.82,221.11 L570.29,219.98 L571.01,218.28 L571.97,216.00 L573.16,213.16 L574.56,209.86 L576.12,206.21 L577.77,202.35 L579.47,198.42 L581.17,194.54 L582.83,190.80 L584.41,187.31 L585.91,184.09 L587.31,181.18 L588.62,178.59 L589.85,176.29 L591.03,174.26 L592.17,172.44 L593.31,170.77 L594.44,169.19 L595.58,167.67 L596.72,166.17 L597.85,164.67 L598.99,163.16 L600.13,161.66 L601.26,160.15 L602.40,158.67 L603.54,157.23 L604.67,155.86 L605.81,154.60 L606.95,153.47 L608.08,152.52 L609.22,151.78 L610.36,151.30 L611.49,151.11 L612.63,151.25 L613.77,151.76 L614.90,152.65 L616.05,153.98 L617.22,155.79 L618.45,158.16 L619.76,161.10 L621.17,164.61 L622.66,168.67 L624.25,173.24 L625.90,178.21 L627.60,183.48 L629.30,188.87 L630.96,194.22 L632.51,199.30 L633.91,203.92 L635.11,207.91 L636.07,211.13 L636.78,213.54 L637.26,215.14 L637.52,216.03 L637.62,216.39 L637.64,216.44"/>
<path d="M569.43,219.05 L569.45,219.01 L569.56,218.73 L569.82,218.03 L570.29,216.78 L571.01,214.90 L571.97,212.37 L573.16,209.24 L574.56,205.59 L576.12,201.56 L577.77,197.29 L579.47,192.94 L581.17,188.65 L582.83,184.53 L584.41,180.67 L585.91,177.12 L587.31,173.92 L588.62,171.06 L589.85,168.53 L591.03,166.30 L592.17,164.31 L593.31,162.49 L594.44,160.79 L595.58,159.15 L596.72,157.55 L597.85,155.96 L598.99,154.38 L600.13,152.81 L601.26,151.25 L602.40,149.71 L603.54,148.22 L604.67,146.81 L605.81,145.50 L606.95,144.34 L608.08,143.35 L609.22,142.58 L610.36,142.06 L611.49,141.85 L612.63,141.96 L613.77,142.45 L614.90,143.33 L616.05,144.65 L617.22,146.48 L618.45,148.87 L619.76,151.84 L621.17,155.40 L622.66,159.53 L624.25,164.16 L625.90,169.21 L627.60,174.56 L629.30,180.04 L630.96,185.47 L632.51,190.64 L633.91,195.34 L635.11,199.39 L636.07,202.67 L636.78,205.11 L637.26,206.74 L637.52,207.65 L637.62,208.01 L637.64,208.07"/>
<path d="M569.43,221.12 L569.45,221.07 L569.56,220.76 L569.82,219.99 L570.29,218.61 L571.01,216.53 L571.97,213.74 L573.16,210.28 L574.56,206.26 L576.12,201.83 L577.77,197.14 L579.47,192.38 L581.17,187.70 L582.83,183.22 L584.41,179.05 L585.91,175.26 L587.31,171.87 L588.62,168.90 L589.85,166.34 L591.03,164.14 L592.17,162.26 L593.31,160.63 L594.44,159.19 L595.58,157.90 L596.72,156.73 L597.85,155.65 L598.99,154.65 L600.13,153.71 L601.26,152.83 L602.40,152.01 L603.54,151.25 L604.67,150.57 L605.81,149.97 L606.95,149.48 L608.08,149.13 L609.22,148.93 L610.36,148.91 L611.49,149.10 L612.63,149.55 L613.77,150.27 L614.90,151.31 L616.05,152.71 L617.22,154.53 L618.45,156.82 L619.76,159.62 L621.17,162.92 L622.66,166.71 L624.25,170.94 L625.90,175.54 L627.60,180.39 L629.30,185.35 L630.96,190.26 L632.51,194.92 L633.91,199.15 L635.11,202.80 L636.07,205.75 L636.78,207.95 L637.26,209.41 L637.52,210.23 L637.62,210.56 L637.64,210.61"/>
<path d="M569.43,218.94 L569.45,218.89 L569.56,218.63 L569.82,217.96 L570.29,216.77 L571.01,214.97 L571.97,212.56 L573.16,209.56 L574.56,206.08 L576.12,202.22 L577.77,198.15 L579.47,194.00 L581.17,189.90 L582.83,185.97 L584.41,182.29 L585.91,178.91 L587.31,175.86 L588.62,173.15 L589.85,170.76 L591.03,168.65 L592.17,166.78 L593.31,165.08 L594.44,163.49 L595.58,161.97 L596.72,160.50 L597.85,159.04 L598.99,157.60 L600.13,156.17 L601.26,154.75 L602.40,153.36 L603.54,152.01 L604.67,150.74 L605.81,149.57 L606.95,148.53 L608.08,147.65 L609.22,146.98 L610.36,146.54 L611.49,146.38 L612.63,146.53 L613.77,147.03 L614.90,147.90 L616.05,149.18 L617.22,150.93 L618.45,153.22 L619.76,156.05 L621.17,159.44 L622.66,163.35 L624.25,167.75 L625.90,172.55 L627.60,177.62 L629.30,182.83 L630.96,187.98 L632.51,192.87 L633.91,197.33 L635.11,201.17 L636.07,204.28 L636.78,206.59 L637.26,208.14 L637.52,209.00 L637.62,209.34 L637.64,209.39"/>
<path d="M569.43,221.54 L569.45,221.50 L569.56,221.21 L569.82,220.50 L570.29,219.21 L571.01,217.28 L571.97,214.69 L573.16,211.47 L574.56,207.73 L576.12,203.59 L577.77,199.22 L579.47,194.76 L581.17,190.37 L582.83,186.16 L584.41,182.23 L585.91,178.62 L587.31,175.37 L588.62,172.50 L589.85,169.97 L591.03,167.76 L592.17,165.81 L593.31,164.06 L594.44,162.44 L595.58,160.92 L596.72,159.46 L597.85,158.05 L598.99,156.67 L600.13,155.31 L601.26,153.98 L602.40,152.70 L603.54,151.46 L604.67,150.30 L605.81,149.23 L606.95,148.29 L608.08,147.50 L609.22,146.89 L610.36,146.51 L611.49,146.39 L612.63,146.55 L613.77,147.04 L614.90,147.89 L616.05,149.13 L617.22,150.82 L618.45,153.03 L619.76,155.76 L621.17,159.02 L622.66,162.80 L624.25,167.03 L625.90,171.65 L627.60,176.54 L629.30,181.55 L630.96,186.51 L632.51,191.23 L633.91,195.52 L635.11,199.21 L636.07,202.21 L636.78,204.44 L637.26,205.92 L637.52,206.75 L637.62,207.08 L637.64,207.13"/>
<path d="M569.43,223.25 L569.45,223.21 L569.56,222.92 L569.82,222.21 L570.29,220.94 L571.01,219.02 L571.97,216.44 L573.16,213.25 L574.56,209.52 L576.12,205.41 L577.77,201.05 L579.47,196.61 L581.17,192.22 L582.83,188.01 L584.41,184.05 L585.91,180.41 L587.31,177.12 L588.62,174.17 L589.85,171.56 L591.03,169.24 L592.17,167.16 L593.31,165.24 L594.44,163.43 L595.58,161.67 L596.72,159.93 L597.85,158.20 L598.99,156.45 L600.13,154.70 L601.26,152.95 L602.40,151.22 L603.54,149.54 L604.67,147.94 L605.81,146.46 L606.95,145.13 L608.08,144.00 L609.22,143.11 L610.36,142.51 L611.49,142.23 L612.63,142.32 L613.77,142.82 L614.90,143.76 L616.05,145.17 L617.22,147.14 L618.45,149.72 L619.76,152.93 L621.17,156.78 L622.66,161.24 L624.25,166.26 L625.90,171.73 L627.60,177.53 L629.30,183.47 L630.96,189.35 L632.51,194.95 L633.91,200.04 L635.11,204.44 L636.07,207.99 L636.78,210.64 L637.26,212.40 L637.52,213.39 L637.62,213.78 L637.64,213.84"/>
<path d="M569.43,228.02 L569.45,227.98 L569.56,227.68 L569.82,226.92 L570.29,225.56 L571.01,223.52 L571.97,220.77 L573.16,217.36 L574.56,213.39 L576.12,209.01 L577.77,204.36 L579.47,199.63 L581.17,194.95 L582.83,190.45 L584.41,186.23 L585.91,182.35 L587.31,178.83 L588.62,175.68 L589.85,172.89 L591.03,170.40 L592.17,168.16 L593.31,166.10 L594.44,164.15 L595.58,162.26 L596.72,160.41 L597.85,158.56 L598.99,156.72 L600.13,154.88 L601.26,153.04 L602.40,151.23 L603.54,149.47 L604.67,147.79 L605.81,146.22 L606.95,144.80 L608.08,143.57 L609.22,142.58 L610.36,141.86 L611.49,141.46 L612.63,141.42 L613.77,141.77 L614.90,142.55 L616.05,143.80 L617.22,145.58 L618.45,147.94 L619.76,150.92 L621.17,154.52 L622.66,158.69 L624.25,163.40 L625.90,168.55 L627.60,174.00 L629.30,179.60 L630.96,185.15 L632.51,190.43 L633.91,195.23 L635.11,199.38 L636.07,202.73 L636.78,205.24 L637.26,206.90 L637.52,207.83 L637.62,208.20 L637.64,208.26"/>
<path d="M569.43,226.91 L569.45,226.86 L569.56,226.56 L569.82,225.79 L570.29,224.42 L571.01,222.36 L571.97,219.58 L573.16,216.14 L574.56,212.13 L576.12,207.70 L577.77,203.01 L579.47,198.23 L581.17,193.52 L582.83,188.99 L584.41,184.74 L585.91,180.84 L587.31,177.31 L588.62,174.17 L589.85,171.39 L591.03,168.92 L592.17,166.73 L593.31,164.71 L594.44,162.82 L595.58,161.01 L596.72,159.24 L597.85,157.49 L598.99,155.75 L600.13,154.01 L601.26,152.29 L602.40,150.60 L603.54,148.97 L604.67,147.41 L605.81,145.97 L606.95,144.67 L608.08,143.57 L609.22,142.69 L610.36,142.09 L611.49,141.79 L612.63,141.86 L613.77,142.31 L614.90,143.19 L616.05,144.53 L617.22,146.42 L618.45,148.89 L619.76,151.98 L621.17,155.69 L622.66,159.99 L624.25,164.83 L625.90,170.11 L627.60,175.71 L629.30,181.45 L630.96,187.13 L632.51,192.54 L633.91,197.46 L635.11,201.70 L636.07,205.13 L636.78,207.69 L637.26,209.40 L637.52,210.35 L637.62,210.73 L637.64,210.79"/>
<path d="M569.43,227.84 L569.45,227.78 L569.56,227.42 L569.82,226.51 L570.29,224.87 L571.01,222.41 L571.97,219.10 L573.16,215.01 L574.56,210.25 L576.12,204.99 L577.77,199.45 L579.47,193.81 L581.17,188.27 L582.83,182.98 L584.41,178.05 L585.91,173.57 L587.31,169.58 L588.62,166.09 L589.85,163.08 L591.03,160.52 L592.17,158.34 L593.31,156.46 L594.44,154.82 L595.58,153.37 L596.72,152.10 L597.85,150.95 L598.99,149.92 L600.13,148.98 L601.26,148.13 L602.40,147.35 L603.54,146.65 L604.67,146.03 L605.81,145.50 L606.95,145.07 L608.08,144.77 L609.22,144.61 L610.36,144.62 L611.49,144.84 L612.63,145.28 L613.77,146.00 L614.90,147.03 L616.05,148.42 L617.22,150.23 L618.45,152.52 L619.76,155.31 L621.17,158.60 L622.66,162.39 L624.25,166.61 L625.90,171.20 L627.60,176.05 L629.30,181.01 L630.96,185.91 L632.51,190.56 L633.91,194.80 L635.11,198.44 L636.07,201.39 L636.78,203.59 L637.26,205.05 L637.52,205.87 L637.62,206.20 L637.64,206.25"/>
<path d="M569.43,222.76 L569.45,222.71 L569.56,222.40 L569.82,221.62 L570.29,220.23 L571.01,218.13 L571.97,215.30 L573.16,211.80 L574.56,207.73 L576.12,203.23 L577.77,198.48 L579.47,193.63 L581.17,188.86 L582.83,184.28 L584.41,180.00 L585.91,176.07 L587.31,172.55 L588.62,169.42 L589.85,166.67 L591.03,164.26 L592.17,162.14 L593.31,160.24 L594.44,158.48 L595.58,156.85 L596.72,155.29 L597.85,153.80 L598.99,152.36 L600.13,150.95 L601.26,149.59 L602.40,148.27 L603.54,147.01 L604.67,145.81 L605.81,144.71 L606.95,143.73 L608.08,142.89 L609.22,142.23 L610.36,141.77 L611.49,141.55 L612.63,141.60 L613.77,141.96 L614.90,142.65 L616.05,143.72 L617.22,145.23 L618.45,147.21 L619.76,149.70 L621.17,152.68 L622.66,156.15 L624.25,160.04 L625.90,164.30 L627.60,168.81 L629.30,173.44 L630.96,178.02 L632.51,182.38 L633.91,186.35 L635.11,189.77 L636.07,192.53 L636.78,194.60 L637.26,195.97 L637.52,196.74 L637.62,197.05 L637.64,197.10"/>
<path d="M569.43,224.49 L569.45,224.44 L569.56,224.14 L569.82,223.37 L570.29,221.99 L571.01,219.92 L571.97,217.14 L573.16,213.69 L574.56,209.67 L576.12,205.24 L577.77,200.55 L579.47,195.78 L581.17,191.07 L582.83,186.57 L584.41,182.36 L585.91,178.50 L587.31,175.04 L588.62,171.97 L589.85,169.28 L591.03,166.94 L592.17,164.89 L593.31,163.04 L594.44,161.36 L595.58,159.79 L596.72,158.31 L597.85,156.90 L598.99,155.53 L600.13,154.20 L601.26,152.91 L602.40,151.67 L603.54,150.48 L604.67,149.37 L605.81,148.35 L606.95,147.45 L608.08,146.69 L609.22,146.11 L610.36,145.74 L611.49,145.61 L612.63,145.75 L613.77,146.20 L614.90,146.99 L616.05,148.17 L617.22,149.78 L618.45,151.89 L619.76,154.50 L621.17,157.63 L622.66,161.26 L624.25,165.32 L625.90,169.76 L627.60,174.45 L629.30,179.27 L630.96,184.03 L632.51,188.56 L633.91,192.69 L635.11,196.24 L636.07,199.12 L636.78,201.26 L637.26,202.69 L637.52,203.49 L637.62,203.81 L637.64,203.85"/>
<path d="M569.43,223.64 L569.45,223.58 L569.56,223.24 L569.82,222.38 L570.29,220.84 L571.01,218.52 L571.97,215.40 L573.16,211.54 L574.56,207.05 L576.12,202.09 L577.77,196.85 L579.47,191.52 L581.17,186.28 L582.83,181.26 L584.41,176.58 L585.91,172.31 L587.31,168.48 L588.62,165.12 L589.85,162.19 L591.03,159.67 L592.17,157.49 L593.31,155.56 L594.44,153.84 L595.58,152.27 L596.72,150.82 L597.85,149.47 L598.99,148.19 L600.13,146.97 L601.26,145.81 L602.40,144.72 L603.54,143.69 L604.67,142.74 L605.81,141.89 L606.95,141.16 L608.08,140.58 L609.22,140.17 L610.36,139.97 L611.49,140.01 L612.63,140.32 L613.77,140.95 L614.90,141.94 L616.05,143.32 L617.22,145.16 L618.45,147.52 L619.76,150.43 L621.17,153.88 L622.66,157.86 L624.25,162.32 L625.90,167.17 L627.60,172.30 L629.30,177.55 L630.96,182.74 L632.51,187.68 L633.91,192.16 L635.11,196.03 L636.07,199.16 L636.78,201.49 L637.26,203.05 L637.52,203.91 L637.62,204.26 L637.64,204.31"/>
<path d="M569.43,224.83 L569.45,224.78 L569.56,224.44 L569.82,223.61 L570.29,222.12 L571.01,219.88 L571.97,216.87 L573.16,213.13 L574.56,208.79 L576.12,203.99 L577.77,198.91 L579.47,193.74 L581.17,188.64 L582.83,183.75 L584.41,179.18 L585.91,174.99 L587.31,171.22 L588.62,167.88 L589.85,164.94 L591.03,162.37 L592.17,160.10 L593.31,158.06 L594.44,156.18 L595.58,154.41 L596.72,152.73 L597.85,151.10 L598.99,149.52 L600.13,147.97 L601.26,146.46 L602.40,144.99 L603.54,143.58 L604.67,142.25 L605.81,141.03 L606.95,139.95 L608.08,139.03 L609.22,138.32 L610.36,137.84 L611.49,137.65 L612.63,137.77 L613.77,138.24 L614.90,139.11 L616.05,140.40 L617.22,142.20 L618.45,144.55 L619.76,147.48 L621.17,150.99 L622.66,155.05 L624.25,159.62 L625.90,164.60 L627.60,169.88 L629.30,175.28 L630.96,180.64 L632.51,185.73 L633.91,190.37 L635.11,194.37 L636.07,197.60 L636.78,200.01 L637.26,201.61 L637.52,202.51 L637.62,202.87 L637.64,202.92"/>
<path d="M569.43,221.45 L569.45,221.39 L569.56,221.01 L569.82,220.05 L570.29,218.34 L571.01,215.77 L571.97,212.31 L573.16,208.03 L574.56,203.05 L576.12,197.56 L577.77,191.76 L579.47,185.87 L581.17,180.08 L582.83,174.55 L584.41,169.40 L585.91,164.72 L587.31,160.55 L588.62,156.90 L589.85,153.76 L591.03,151.09 L592.17,148.81 L593.31,146.85 L594.44,145.13 L595.58,143.62 L596.72,142.26 L597.85,141.04 L598.99,139.92 L600.13,138.89 L601.26,137.94 L602.40,137.07 L603.54,136.28 L604.67,135.58 L605.81,134.98 L606.95,134.51 L608.08,134.18 L609.22,134.04 L610.36,134.10 L611.49,134.40 L612.63,134.99 L613.77,135.91 L614.90,137.19 L616.05,138.89 L617.22,141.09 L618.45,143.84 L619.76,147.19 L621.17,151.14 L622.66,155.67 L624.25,160.72 L625.90,166.19 L627.60,171.97 L629.30,177.89 L630.96,183.73 L632.51,189.28 L633.91,194.32 L635.11,198.66 L636.07,202.17 L636.78,204.79 L637.26,206.53 L637.52,207.51 L637.62,207.90 L637.64,207.95"/>
<path d="M569.43,214.95 L569.45,214.91 L569.56,214.60 L569.82,213.81 L570.29,212.41 L571.01,210.30 L571.97,207.47 L573.16,203.95 L574.56,199.87 L576.12,195.35 L577.77,190.59 L579.47,185.74 L581.17,180.97 L582.83,176.40 L584.41,172.14 L585.91,168.25 L587.31,164.77 L588.62,161.71 L589.85,159.05 L591.03,156.75 L592.17,154.76 L593.31,153.00 L594.44,151.43 L595.58,150.00 L596.72,148.68 L597.85,147.45 L598.99,146.29 L600.13,145.19 L601.26,144.15 L602.40,143.16 L603.54,142.23 L604.67,141.38 L605.81,140.61 L606.95,139.94 L608.08,139.41 L609.22,139.03 L610.36,138.82 L611.49,138.83 L612.63,139.08 L613.77,139.61 L614.90,140.44 L616.05,141.62 L617.22,143.21 L618.45,145.26 L619.76,147.78 L621.17,150.78 L622.66,154.24 L624.25,158.12 L625.90,162.35 L627.60,166.81 L629.30,171.39 L630.96,175.91 L632.51,180.22 L633.91,184.13 L635.11,187.50 L636.07,190.23 L636.78,192.26 L637.26,193.62 L637.52,194.37 L637.62,194.68 L637.64,194.72"/>
<path d="M569.43,221.31 L569.45,221.26 L569.56,220.94 L569.82,220.13 L570.29,218.67 L571.01,216.48 L571.97,213.53 L573.16,209.88 L574.56,205.63 L576.12,200.93 L577.77,195.97 L579.47,190.92 L581.17,185.93 L582.83,181.16 L584.41,176.70 L585.91,172.61 L587.31,168.93 L588.62,165.68 L589.85,162.82 L591.03,160.33 L592.17,158.14 L593.31,156.17 L594.44,154.36 L595.58,152.67 L596.72,151.06 L597.85,149.50 L598.99,147.99 L600.13,146.52 L601.26,145.08 L602.40,143.68 L603.54,142.35 L604.67,141.09 L605.81,139.95 L606.95,138.93 L608.08,138.09 L609.22,137.44 L610.36,137.03 L611.49,136.90 L612.63,137.09 L613.77,137.62 L614.90,138.54 L616.05,139.90 L617.22,141.75 L618.45,144.16 L619.76,147.14 L621.17,150.70 L622.66,154.83 L624.25,159.45 L625.90,164.50 L627.60,169.84 L629.30,175.31 L630.96,180.72 L632.51,185.87 L633.91,190.56 L635.11,194.60 L636.07,197.86 L636.78,200.30 L637.26,201.92 L637.52,202.83 L637.62,203.19 L637.64,203.25"/>
<path d="M569.43,220.97 L569.45,220.91 L569.56,220.54 L569.82,219.61 L570.29,217.95 L571.01,215.45 L571.97,212.09 L573.16,207.92 L574.56,203.08 L576.12,197.73 L577.77,192.09 L579.47,186.35 L581.17,180.71 L582.83,175.31 L584.41,170.29 L585.91,165.71 L587.31,161.63 L588.62,158.05 L589.85,154.96 L591.03,152.31 L592.17,150.04 L593.31,148.07 L594.44,146.34 L595.58,144.80 L596.72,143.42 L597.85,142.17 L598.99,141.02 L600.13,139.97 L601.26,138.99 L602.40,138.10 L603.54,137.27 L604.67,136.53 L605.81,135.88 L606.95,135.34 L608.08,134.93 L609.22,134.66 L610.36,134.57 L611.49,134.69 L612.63,135.05 L613.77,135.70 L614.90,136.65 L616.05,137.98 L617.22,139.74 L618.45,141.97 L619.76,144.72 L621.17,147.97 L622.66,151.72 L624.25,155.91 L625.90,160.46 L627.60,165.28 L629.30,170.21 L630.96,175.08 L632.51,179.71 L633.91,183.92 L635.11,187.55 L636.07,190.49 L636.78,192.68 L637.26,194.13 L637.52,194.95 L637.62,195.27 L637.64,195.32"/>
<path d="M569.43,213.73 L569.45,213.69 L569.56,213.42 L569.82,212.73 L570.29,211.50 L571.01,209.65 L571.97,207.15 L573.16,204.06 L574.56,200.46 L576.12,196.47 L577.77,192.25 L579.47,187.95 L581.17,183.70 L582.83,179.61 L584.41,175.76 L585.91,172.22 L587.31,169.00 L588.62,166.12 L589.85,163.54 L591.03,161.24 L592.17,159.16 L593.31,157.23 L594.44,155.39 L595.58,153.59 L596.72,151.80 L597.85,150.01 L598.99,148.20 L600.13,146.38 L601.26,144.56 L602.40,142.75 L603.54,140.99 L604.67,139.31 L605.81,137.73 L606.95,136.31 L608.08,135.07 L609.22,134.07 L610.36,133.34 L611.49,132.92 L612.63,132.87 L613.77,133.20 L614.90,133.95 L616.05,135.16 L617.22,136.89 L618.45,139.20 L619.76,142.10 L621.17,145.60 L622.66,149.68 L624.25,154.27 L625.90,159.29 L627.60,164.61 L629.30,170.07 L630.96,175.48 L632.51,180.63 L633.91,185.32 L635.11,189.36 L636.07,192.64 L636.78,195.08 L637.26,196.70 L637.52,197.61 L637.62,197.97 L637.64,198.03"/>
<path d="M569.43,224.77 L569.45,224.72 L569.56,224.38 L569.82,223.52 L570.29,221.97 L571.01,219.66 L571.97,216.54 L573.16,212.68 L574.56,208.18 L576.12,203.21 L577.77,197.95 L579.47,192.60 L581.17,187.31 L582.83,182.25 L584.41,177.50 L585.91,173.15 L587.31,169.22 L588.62,165.73 L589.85,162.66 L591.03,159.95 L592.17,157.56 L593.31,155.38 L594.44,153.37 L595.58,151.47 L596.72,149.65 L597.85,147.90 L598.99,146.18 L600.13,144.50 L601.26,142.86 L602.40,141.26 L603.54,139.73 L604.67,138.27 L605.81,136.92 L606.95,135.70 L608.08,134.64 L609.22,133.79 L610.36,133.17 L611.49,132.82 L612.63,132.79 L613.77,133.10 L614.90,133.79 L616.05,134.91 L617.22,136.52 L618.45,138.66 L619.76,141.37 L621.17,144.62 L622.66,148.42 L624.25,152.69 L625.90,157.36 L627.60,162.32 L629.30,167.41 L630.96,172.45 L632.51,177.25 L633.91,181.61 L635.11,185.38 L636.07,188.43 L636.78,190.70 L637.26,192.22 L637.52,193.07 L637.62,193.40 L637.64,193.46"/>
<path d="M569.43,222.52 L569.45,222.46 L569.56,222.10 L569.82,221.20 L570.29,219.57 L571.01,217.12 L571.97,213.84 L573.16,209.76 L574.56,205.02 L576.12,199.78 L577.77,194.24 L579.47,188.61 L581.17,183.05 L582.83,177.72 L584.41,172.75 L585.91,168.19 L587.31,164.09 L588.62,160.47 L589.85,157.29 L591.03,154.52 L592.17,152.08 L593.31,149.90 L594.44,147.90 L595.58,146.05 L596.72,144.30 L597.85,142.63 L598.99,141.02 L600.13,139.46 L601.26,137.96 L602.40,136.50 L603.54,135.12 L604.67,133.82 L605.81,132.62 L606.95,131.56 L608.08,130.65 L609.22,129.95 L610.36,129.47 L611.49,129.26 L612.63,129.36 L613.77,129.80 L614.90,130.63 L616.05,131.88 L617.22,133.63 L618.45,135.92 L619.76,138.79 L621.17,142.23 L622.66,146.21 L624.25,150.69 L625.90,155.58 L627.60,160.76 L629.30,166.08 L630.96,171.34 L632.51,176.34 L633.91,180.90 L635.11,184.82 L636.07,188.00 L636.78,190.37 L637.26,191.95 L637.52,192.83 L637.62,193.18 L637.64,193.23"/>
<path d="M569.43,216.92 L569.45,216.87 L569.56,216.52 L569.82,215.65 L570.29,214.09 L571.01,211.74 L571.97,208.59 L573.16,204.68 L574.56,200.13 L576.12,195.11 L577.77,189.80 L579.47,184.39 L581.17,179.07 L582.83,173.97 L584.41,169.20 L585.91,164.85 L587.31,160.93 L588.62,157.48 L589.85,154.45 L591.03,151.83 L592.17,149.53 L593.31,147.47 L594.44,145.61 L595.58,143.90 L596.72,142.30 L597.85,140.80 L598.99,139.37 L600.13,138.00 L601.26,136.68 L602.40,135.42 L603.54,134.23 L604.67,133.11 L605.81,132.09 L606.95,131.18 L608.08,130.41 L609.22,129.80 L610.36,129.39 L611.49,129.20 L612.63,129.28 L613.77,129.65 L614.90,130.35 L616.05,131.43 L617.22,132.94 L618.45,134.92 L619.76,137.41 L621.17,140.39 L622.66,143.85 L624.25,147.75 L625.90,152.00 L627.60,156.50 L629.30,161.12 L630.96,165.69 L632.51,170.04 L633.91,174.00 L635.11,177.42 L636.07,180.18 L636.78,182.24 L637.26,183.62 L637.52,184.38 L637.62,184.69 L637.64,184.74"/>
<path d="M569.43,217.64 L569.45,217.58 L569.56,217.24 L569.82,216.37 L570.29,214.82 L571.01,212.48 L571.97,209.34 L573.16,205.44 L574.56,200.90 L576.12,195.89 L577.77,190.60 L579.47,185.21 L581.17,179.89 L582.83,174.79 L584.41,170.03 L585.91,165.66 L587.31,161.73 L588.62,158.25 L589.85,155.20 L591.03,152.52 L592.17,150.17 L593.31,148.05 L594.44,146.10 L595.58,144.28 L596.72,142.53 L597.85,140.85 L598.99,139.21 L600.13,137.60 L601.26,136.03 L602.40,134.51 L603.54,133.06 L604.67,131.69 L605.81,130.43 L606.95,129.31 L608.08,128.38 L609.22,127.66 L610.36,127.20 L611.49,127.03 L612.63,127.20 L613.77,127.75 L614.90,128.71 L616.05,130.14 L617.22,132.09 L618.45,134.64 L619.76,137.80 L621.17,141.59 L622.66,145.97 L624.25,150.88 L625.90,156.25 L627.60,161.92 L629.30,167.74 L630.96,173.50 L632.51,178.98 L633.91,183.96 L635.11,188.25 L636.07,191.73 L636.78,194.32 L637.26,196.05 L637.52,197.01 L637.62,197.40 L637.64,197.45"/>
<path d="M569.43,221.09 L569.45,221.04 L569.56,220.65 L569.82,219.68 L570.29,217.95 L571.01,215.33 L571.97,211.83 L573.16,207.48 L574.56,202.42 L576.12,196.84 L577.77,190.94 L579.47,184.93 L581.17,179.02 L582.83,173.37 L584.41,168.09 L585.91,163.27 L587.31,158.95 L588.62,155.15 L589.85,151.84 L591.03,148.98 L592.17,146.49 L593.31,144.29 L594.44,142.32 L595.58,140.54 L596.72,138.91 L597.85,137.39 L598.99,135.98 L600.13,134.65 L601.26,133.39 L602.40,132.20 L603.54,131.09 L604.67,130.06 L605.81,129.12 L606.95,128.30 L608.08,127.61 L609.22,127.09 L610.36,126.75 L611.49,126.63 L612.63,126.77 L613.77,127.20 L614.90,127.96 L616.05,129.11 L617.22,130.70 L618.45,132.77 L619.76,135.35 L621.17,138.45 L622.66,142.04 L624.25,146.07 L625.90,150.46 L627.60,155.12 L629.30,159.89 L630.96,164.62 L632.51,169.12 L633.91,173.21 L635.11,176.74 L636.07,179.59 L636.78,181.72 L637.26,183.13 L637.52,183.93 L637.62,184.24 L637.64,184.29"/>
<path d="M569.43,219.53 L569.45,219.48 L569.56,219.16 L569.82,218.36 L570.29,216.92 L571.01,214.76 L571.97,211.85 L573.16,208.24 L574.56,204.04 L576.12,199.38 L577.77,194.46 L579.47,189.42 L581.17,184.45 L582.83,179.66 L584.41,175.15 L585.91,170.98 L587.31,167.19 L588.62,163.78 L589.85,160.72 L591.03,157.97 L592.17,155.46 L593.31,153.12 L594.44,150.87 L595.58,148.67 L596.72,146.49 L597.85,144.30 L598.99,142.10 L600.13,139.88 L601.26,137.66 L602.40,135.47 L603.54,133.32 L604.67,131.25 L605.81,129.30 L606.95,127.50 L608.08,125.91 L609.22,124.56 L610.36,123.51 L611.49,122.79 L612.63,122.45 L613.77,122.53 L614.90,123.05 L616.05,124.05 L617.22,125.61 L618.45,127.76 L619.76,130.52 L621.17,133.90 L622.66,137.87 L624.25,142.36 L625.90,147.30 L627.60,152.54 L629.30,157.93 L630.96,163.28 L632.51,168.38 L633.91,173.02 L635.11,177.03 L636.07,180.27 L636.78,182.69 L637.26,184.31 L637.52,185.21 L637.62,185.57 L637.64,185.62"/>
<path d="M569.43,223.40 L569.45,223.33 L569.56,222.91 L569.82,221.85 L570.29,219.94 L571.01,217.08 L571.97,213.23 L573.16,208.46 L574.56,202.92 L576.12,196.81 L577.77,190.35 L579.47,183.79 L581.17,177.33 L582.83,171.16 L584.41,165.42 L585.91,160.19 L587.31,155.53 L588.62,151.45 L589.85,147.92 L591.03,144.91 L592.17,142.33 L593.31,140.10 L594.44,138.14 L595.58,136.40 L596.72,134.84 L597.85,133.42 L598.99,132.13 L600.13,130.94 L601.26,129.83 L602.40,128.82 L603.54,127.89 L604.67,127.06 L605.81,126.34 L606.95,125.74 L608.08,125.30 L609.22,125.04 L610.36,124.99 L611.49,125.20 L612.63,125.70 L613.77,126.53 L614.90,127.74 L616.05,129.39 L617.22,131.56 L618.45,134.30 L619.76,137.66 L621.17,141.62 L622.66,146.18 L624.25,151.28 L625.90,156.82 L627.60,162.66 L629.30,168.65 L630.96,174.56 L632.51,180.18 L633.91,185.29 L635.11,189.69 L636.07,193.25 L636.78,195.91 L637.26,197.67 L637.52,198.66 L637.62,199.05 L637.64,199.11"/>
<path d="M569.43,220.71 L569.45,220.65 L569.56,220.29 L569.82,219.39 L570.29,217.77 L571.01,215.33 L571.97,212.05 L573.16,207.99 L574.56,203.26 L576.12,198.03 L577.77,192.49 L579.47,186.85 L581.17,181.28 L582.83,175.94 L584.41,170.92 L585.91,166.32 L587.31,162.16 L588.62,158.45 L589.85,155.17 L591.03,152.27 L592.17,149.68 L593.31,147.31 L594.44,145.09 L595.58,142.97 L596.72,140.92 L597.85,138.90 L598.99,136.91 L600.13,134.93 L601.26,132.98 L602.40,131.07 L603.54,129.22 L604.67,127.46 L605.81,125.82 L606.95,124.34 L608.08,123.06 L609.22,122.03 L610.36,121.29 L611.49,120.88 L612.63,120.84 L613.77,121.23 L614.90,122.07 L616.05,123.42 L617.22,125.35 L618.45,127.91 L619.76,131.13 L621.17,135.01 L622.66,139.53 L624.25,144.61 L625.90,150.17 L627.60,156.07 L629.30,162.12 L630.96,168.11 L632.51,173.82 L633.91,179.01 L635.11,183.49 L636.07,187.12 L636.78,189.82 L637.26,191.62 L637.52,192.63 L637.62,193.03 L637.64,193.09"/>
<path d="M569.43,219.83 L569.45,219.77 L569.56,219.40 L569.82,218.47 L570.29,216.81 L571.01,214.30 L571.97,210.93 L573.16,206.76 L574.56,201.90 L576.12,196.54 L577.77,190.87 L579.47,185.10 L581.17,179.41 L582.83,173.97 L584.41,168.88 L585.91,164.22 L587.31,160.04 L588.62,156.34 L589.85,153.10 L591.03,150.29 L592.17,147.82 L593.31,145.61 L594.44,143.60 L595.58,141.75 L596.72,140.00 L597.85,138.33 L598.99,136.73 L600.13,135.19 L601.26,133.70 L602.40,132.26 L603.54,130.90 L604.67,129.62 L605.81,128.45 L606.95,127.42 L608.08,126.55 L609.22,125.88 L610.36,125.46 L611.49,125.30 L612.63,125.47 L613.77,125.98 L614.90,126.90 L616.05,128.25 L617.22,130.12 L618.45,132.55 L619.76,135.58 L621.17,139.20 L622.66,143.39 L624.25,148.10 L625.90,153.24 L627.60,158.68 L629.30,164.25 L630.96,169.77 L632.51,175.02 L633.91,179.79 L635.11,183.91 L636.07,187.24 L636.78,189.72 L637.26,191.37 L637.52,192.30 L637.62,192.67 L637.64,192.72"/>
<path d="M569.43,217.77 L569.45,217.71 L569.56,217.31 L569.82,216.31 L570.29,214.52 L571.01,211.84 L571.97,208.23 L573.16,203.75 L574.56,198.54 L576.12,192.80 L577.77,186.73 L579.47,180.55 L581.17,174.47 L582.83,168.65 L584.41,163.23 L585.91,158.27 L587.31,153.84 L588.62,149.94 L589.85,146.55 L591.03,143.62 L592.17,141.08 L593.31,138.84 L594.44,136.84 L595.58,135.02 L596.72,133.34 L597.85,131.77 L598.99,130.30 L600.13,128.90 L601.26,127.57 L602.40,126.31 L603.54,125.13 L604.67,124.05 L605.81,123.07 L606.95,122.22 L608.08,121.54 L609.22,121.05 L610.36,120.80 L611.49,120.80 L612.63,121.12 L613.77,121.78 L614.90,122.84 L616.05,124.34 L617.22,126.37 L618.45,128.96 L619.76,132.17 L621.17,135.98 L622.66,140.38 L624.25,145.30 L625.90,150.67 L627.60,156.34 L629.30,162.15 L630.96,167.90 L632.51,173.37 L633.91,178.34 L635.11,182.63 L636.07,186.09 L636.78,188.67 L637.26,190.39 L637.52,191.36 L637.62,191.74 L637.64,191.80"/>
<path d="M569.43,222.76 L569.45,222.70 L569.56,222.30 L569.82,221.28 L570.29,219.45 L571.01,216.70 L571.97,213.01 L573.16,208.43 L574.56,203.11 L576.12,197.23 L577.77,191.02 L579.47,184.71 L581.17,178.49 L582.83,172.54 L584.41,166.99 L585.91,161.93 L587.31,157.39 L588.62,153.40 L589.85,149.93 L591.03,146.94 L592.17,144.35 L593.31,142.06 L594.44,140.01 L595.58,138.16 L596.72,136.47 L597.85,134.90 L598.99,133.43 L600.13,132.05 L601.26,130.75 L602.40,129.52 L603.54,128.37 L604.67,127.31 L605.81,126.35 L606.95,125.52 L608.08,124.84 L609.22,124.33 L610.36,124.04 L611.49,123.99 L612.63,124.22 L613.77,124.78 L614.90,125.71 L616.05,127.05 L617.22,128.89 L618.45,131.26 L619.76,134.20 L621.17,137.70 L622.66,141.76 L624.25,146.30 L625.90,151.26 L627.60,156.50 L629.30,161.87 L630.96,167.19 L632.51,172.25 L633.91,176.85 L635.11,180.81 L636.07,184.02 L636.78,186.41 L637.26,188.00 L637.52,188.89 L637.62,189.25 L637.64,189.30"/>
<path d="M569.43,224.54 L569.45,224.46 L569.56,224.00 L569.82,222.83 L570.29,220.74 L571.01,217.59 L571.97,213.36 L573.16,208.12 L574.56,202.03 L576.12,195.31 L577.77,188.22 L579.47,181.01 L581.17,173.91 L582.83,167.14 L584.41,160.83 L585.91,155.08 L587.31,149.96 L588.62,145.48 L589.85,141.61 L591.03,138.31 L592.17,135.48 L593.31,133.04 L594.44,130.90 L595.58,129.01 L596.72,127.34 L597.85,125.84 L598.99,124.48 L600.13,123.24 L601.26,122.11 L602.40,121.08 L603.54,120.15 L604.67,119.32 L605.81,118.59 L606.95,117.99 L608.08,117.54 L609.22,117.26 L610.36,117.19 L611.49,117.36 L612.63,117.81 L613.77,118.59 L614.90,119.75 L616.05,121.34 L617.22,123.45 L618.45,126.13 L619.76,129.42 L621.17,133.31 L622.66,137.80 L624.25,142.81 L625.90,148.26 L627.60,154.02 L629.30,159.92 L630.96,165.75 L632.51,171.29 L633.91,176.33 L635.11,180.67 L636.07,184.18 L636.78,186.80 L637.26,188.54 L637.52,189.51 L637.62,189.90 L637.64,189.96"/>
<path d="M569.43,214.33 L569.45,214.27 L569.56,213.87 L569.82,212.84 L570.29,211.01 L571.01,208.26 L571.97,204.57 L573.16,199.99 L574.56,194.68 L576.12,188.81 L577.77,182.62 L579.47,176.33 L581.17,170.16 L582.83,164.27 L584.41,158.80 L585.91,153.83 L587.31,149.41 L588.62,145.57 L589.85,142.28 L591.03,139.51 L592.17,137.17 L593.31,135.19 L594.44,133.50 L595.58,132.06 L596.72,130.83 L597.85,129.79 L598.99,128.89 L600.13,128.13 L601.26,127.47 L602.40,126.92 L603.54,126.45 L604.67,126.06 L605.81,125.76 L606.95,125.56 L608.08,125.46 L609.22,125.49 L610.36,125.66 L611.49,126.00 L612.63,126.55 L613.77,127.34 L614.90,128.42 L616.05,129.84 L617.22,131.67 L618.45,133.96 L619.76,136.73 L621.17,139.99 L622.66,143.72 L624.25,147.88 L625.90,152.39 L627.60,157.15 L629.30,162.02 L630.96,166.83 L632.51,171.39 L633.91,175.54 L635.11,179.12 L636.07,182.01 L636.78,184.16 L637.26,185.59 L637.52,186.40 L637.62,186.71 L637.64,186.76"/>
<path d="M569.43,219.03 L569.45,218.96 L569.56,218.55 L569.82,217.51 L570.29,215.65 L571.01,212.85 L571.97,209.09 L573.16,204.43 L574.56,199.01 L576.12,193.02 L577.77,186.70 L579.47,180.27 L581.17,173.94 L582.83,167.88 L584.41,162.23 L585.91,157.08 L587.31,152.46 L588.62,148.40 L589.85,144.87 L591.03,141.83 L592.17,139.19 L593.31,136.87 L594.44,134.80 L595.58,132.93 L596.72,131.22 L597.85,129.64 L598.99,128.16 L600.13,126.78 L601.26,125.47 L602.40,124.25 L603.54,123.10 L604.67,122.04 L605.81,121.09 L606.95,120.27 L608.08,119.59 L609.22,119.08 L610.36,118.79 L611.49,118.74 L612.63,118.97 L613.77,119.53 L614.90,120.45 L616.05,121.80 L617.22,123.63 L618.45,126.00 L619.76,128.93 L621.17,132.44 L622.66,136.49 L624.25,141.04 L625.90,146.00 L627.60,151.24 L629.30,156.62 L630.96,161.93 L632.51,166.99 L633.91,171.59 L635.11,175.56 L636.07,178.77 L636.78,181.16 L637.26,182.75 L637.52,183.64 L637.62,184.00 L637.64,184.05"/>
<path d="M569.43,217.47 L569.45,217.40 L569.56,216.96 L569.82,215.86 L570.29,213.89 L571.01,210.93 L571.97,206.96 L573.16,202.03 L574.56,196.29 L576.12,189.96 L577.77,183.27 L579.47,176.47 L581.17,169.77 L582.83,163.36 L584.41,157.37 L585.91,151.91 L587.31,147.02 L588.62,142.72 L589.85,138.97 L591.03,135.74 L592.17,132.93 L593.31,130.45 L594.44,128.23 L595.58,126.21 L596.72,124.36 L597.85,122.63 L598.99,121.00 L600.13,119.46 L601.26,118.00 L602.40,116.62 L603.54,115.32 L604.67,114.12 L605.81,113.04 L606.95,112.10 L608.08,111.33 L609.22,110.77 L610.36,110.44 L611.49,110.40 L612.63,110.68 L613.77,111.32 L614.90,112.38 L616.05,113.92 L617.22,116.00 L618.45,118.69 L619.76,122.02 L621.17,125.99 L622.66,130.57 L624.25,135.72 L625.90,141.32 L627.60,147.25 L629.30,153.32 L630.96,159.33 L632.51,165.05 L633.91,170.25 L635.11,174.73 L636.07,178.36 L636.78,181.06 L637.26,182.86 L637.52,183.87 L637.62,184.27 L637.64,184.33"/>
<path d="M569.43,220.48 L569.45,220.41 L569.56,219.92 L569.82,218.69 L570.29,216.50 L571.01,213.19 L571.97,208.76 L573.16,203.27 L574.56,196.88 L576.12,189.85 L577.77,182.42 L579.47,174.88 L581.17,167.48 L582.83,160.43 L584.41,153.88 L585.91,147.94 L587.31,142.68 L588.62,138.10 L589.85,134.21 L591.03,130.93 L592.17,128.20 L593.31,125.90 L594.44,123.97 L595.58,122.36 L596.72,121.04 L597.85,119.95 L598.99,119.07 L600.13,118.36 L601.26,117.79 L602.40,117.35 L603.54,117.02 L604.67,116.78 L605.81,116.64 L606.95,116.59 L608.08,116.64 L609.22,116.81 L610.36,117.12 L611.49,117.59 L612.63,118.26 L613.77,119.18 L614.90,120.39 L616.05,121.96 L617.22,123.96 L618.45,126.44 L619.76,129.45 L621.17,132.97 L622.66,137.00 L624.25,141.48 L625.90,146.34 L627.60,151.47 L629.30,156.71 L630.96,161.88 L632.51,166.79 L633.91,171.25 L635.11,175.10 L636.07,178.20 L636.78,180.52 L637.26,182.06 L637.52,182.92 L637.62,183.26 L637.64,183.32"/>
<path d="M569.43,216.46 L569.45,216.39 L569.56,215.98 L569.82,214.95 L570.29,213.11 L571.01,210.33 L571.97,206.60 L573.16,201.98 L574.56,196.60 L576.12,190.65 L577.77,184.37 L579.47,177.98 L581.17,171.67 L582.83,165.64 L584.41,159.99 L585.91,154.83 L587.31,150.19 L588.62,146.08 L589.85,142.49 L591.03,139.36 L592.17,136.61 L593.31,134.16 L594.44,131.92 L595.58,129.86 L596.72,127.93 L597.85,126.10 L598.99,124.35 L600.13,122.67 L601.26,121.06 L602.40,119.51 L603.54,118.04 L604.67,116.66 L605.81,115.39 L606.95,114.25 L608.08,113.28 L609.22,112.51 L610.36,111.98 L611.49,111.72 L612.63,111.77 L613.77,112.17 L614.90,112.97 L616.05,114.22 L617.22,115.99 L618.45,118.32 L619.76,121.24 L621.17,124.76 L622.66,128.85 L624.25,133.44 L625.90,138.47 L627.60,143.79 L629.30,149.25 L630.96,154.66 L632.51,159.81 L633.91,164.50 L635.11,168.54 L636.07,171.81 L636.78,174.25 L637.26,175.87 L637.52,176.78 L637.62,177.14 L637.64,177.20"/>
<path d="M569.43,219.59 L569.45,219.52 L569.56,219.08 L569.82,217.99 L570.29,216.03 L571.01,213.08 L571.97,209.12 L573.16,204.21 L574.56,198.50 L576.12,192.19 L577.77,185.52 L579.47,178.74 L581.17,172.07 L582.83,165.67 L584.41,159.71 L585.91,154.26 L587.31,149.38 L588.62,145.07 L589.85,141.32 L591.03,138.08 L592.17,135.25 L593.31,132.76 L594.44,130.52 L595.58,128.50 L596.72,126.65 L597.85,124.96 L598.99,123.38 L600.13,121.90 L601.26,120.51 L602.40,119.21 L603.54,117.99 L604.67,116.85 L605.81,115.81 L606.95,114.89 L608.08,114.09 L609.22,113.46 L610.36,113.01 L611.49,112.77 L612.63,112.79 L613.77,113.10 L614.90,113.74 L616.05,114.77 L617.22,116.25 L618.45,118.22 L619.76,120.69 L621.17,123.68 L622.66,127.15 L624.25,131.07 L625.90,135.35 L627.60,139.88 L629.30,144.54 L630.96,149.15 L632.51,153.55 L633.91,157.54 L635.11,160.99 L636.07,163.78 L636.78,165.86 L637.26,167.25 L637.52,168.02 L637.62,168.33 L637.64,168.38"/>
<path d="M569.43,215.90 L569.45,215.84 L569.56,215.47 L569.82,214.52 L570.29,212.82 L571.01,210.27 L571.97,206.83 L573.16,202.58 L574.56,197.62 L576.12,192.15 L577.77,186.35 L579.47,180.45 L581.17,174.63 L582.83,169.05 L584.41,163.82 L585.91,159.03 L587.31,154.71 L588.62,150.87 L589.85,147.48 L591.03,144.51 L592.17,141.87 L593.31,139.48 L594.44,137.28 L595.58,135.22 L596.72,133.27 L597.85,131.40 L598.99,129.60 L600.13,127.85 L601.26,126.15 L602.40,124.51 L603.54,122.93 L604.67,121.43 L605.81,120.04 L606.95,118.76 L608.08,117.64 L609.22,116.69 L610.36,115.97 L611.49,115.49 L612.63,115.29 L613.77,115.42 L614.90,115.90 L616.05,116.79 L617.22,118.13 L618.45,119.97 L619.76,122.33 L621.17,125.20 L622.66,128.56 L624.25,132.37 L625.90,136.54 L627.60,140.97 L629.30,145.53 L630.96,150.05 L632.51,154.36 L633.91,158.28 L635.11,161.66 L636.07,164.40 L636.78,166.45 L637.26,167.81 L637.52,168.57 L637.62,168.87 L637.64,168.92"/>
<path d="M569.43,217.48 L569.45,217.42 L569.56,217.05 L569.82,216.11 L570.29,214.43 L571.01,211.91 L571.97,208.52 L573.16,204.31 L574.56,199.42 L576.12,194.00 L577.77,188.27 L579.47,182.42 L581.17,176.65 L582.83,171.10 L584.41,165.90 L585.91,161.11 L587.31,156.77 L588.62,152.90 L589.85,149.46 L591.03,146.40 L592.17,143.65 L593.31,141.13 L594.44,138.75 L595.58,136.48 L596.72,134.28 L597.85,132.12 L598.99,129.99 L600.13,127.88 L601.26,125.80 L602.40,123.76 L603.54,121.78 L604.67,119.89 L605.81,118.11 L606.95,116.48 L608.08,115.04 L609.22,113.82 L610.36,112.88 L611.49,112.24 L612.63,111.96 L613.77,112.08 L614.90,112.62 L616.05,113.63 L617.22,115.18 L618.45,117.31 L619.76,120.05 L621.17,123.39 L622.66,127.30 L624.25,131.73 L625.90,136.60 L627.60,141.76 L629.30,147.07 L630.96,152.34 L632.51,157.37 L633.91,161.94 L635.11,165.88 L636.07,169.08 L636.78,171.46 L637.26,173.05 L637.52,173.94 L637.62,174.29 L637.64,174.35"/>
<path d="M569.43,210.33 L569.45,210.27 L569.56,209.90 L569.82,208.98 L570.29,207.31 L571.01,204.81 L571.97,201.45 L573.16,197.27 L574.56,192.41 L576.12,187.04 L577.77,181.35 L579.47,175.56 L581.17,169.83 L582.83,164.33 L584.41,159.17 L585.91,154.42 L587.31,150.12 L588.62,146.28 L589.85,142.87 L591.03,139.85 L592.17,137.14 L593.31,134.64 L594.44,132.30 L595.58,130.06 L596.72,127.89 L597.85,125.76 L598.99,123.67 L600.13,121.59 L601.26,119.55 L602.40,117.54 L603.54,115.60 L604.67,113.74 L605.81,111.99 L606.95,110.39 L608.08,108.98 L609.22,107.80 L610.36,106.88 L611.49,106.27 L612.63,106.01 L613.77,106.14 L614.90,106.70 L616.05,107.72 L617.22,109.28 L618.45,111.42 L619.76,114.16 L621.17,117.50 L622.66,121.41 L624.25,125.83 L625.90,130.68 L627.60,135.84 L629.30,141.14 L630.96,146.40 L632.51,151.41 L633.91,155.97 L635.11,159.91 L636.07,163.10 L636.78,165.48 L637.26,167.06 L637.52,167.95 L637.62,168.30 L637.64,168.35"/>
<path d="M569.43,216.95 L569.45,216.89 L569.56,216.45 L569.82,215.36 L570.29,213.40 L571.01,210.45 L571.97,206.48 L573.16,201.56 L574.56,195.84 L576.12,189.52 L577.77,182.83 L579.47,176.01 L581.17,169.28 L582.83,162.83 L584.41,156.79 L585.91,151.25 L587.31,146.25 L588.62,141.80 L589.85,137.88 L591.03,134.43 L592.17,131.37 L593.31,128.59 L594.44,126.02 L595.58,123.62 L596.72,121.34 L597.85,119.15 L598.99,117.04 L600.13,114.99 L601.26,112.99 L602.40,111.06 L603.54,109.20 L604.67,107.44 L605.81,105.79 L606.95,104.28 L608.08,102.94 L609.22,101.82 L610.36,100.94 L611.49,100.35 L612.63,100.10 L613.77,100.21 L614.90,100.73 L616.05,101.72 L617.22,103.24 L618.45,105.33 L619.76,108.01 L621.17,111.28 L622.66,115.12 L624.25,119.47 L625.90,124.24 L627.60,129.30 L629.30,134.51 L630.96,139.68 L632.51,144.61 L633.91,149.09 L635.11,152.96 L636.07,156.10 L636.78,158.44 L637.26,160.00 L637.52,160.87 L637.62,161.21 L637.64,161.27"/>
<path d="M569.43,210.15 L569.45,210.09 L569.56,209.66 L569.82,208.58 L570.29,206.65 L571.01,203.74 L571.97,199.83 L573.16,194.98 L574.56,189.34 L576.12,183.11 L577.77,176.53 L579.47,169.82 L581.17,163.20 L582.83,156.86 L584.41,150.93 L585.91,145.50 L587.31,140.61 L588.62,136.27 L589.85,132.46 L591.03,129.13 L592.17,126.19 L593.31,123.54 L594.44,121.11 L595.58,118.85 L596.72,116.72 L597.85,114.67 L598.99,112.71 L600.13,110.80 L601.26,108.96 L602.40,107.18 L603.54,105.47 L604.67,103.86 L605.81,102.37 L606.95,101.03 L608.08,99.88 L609.22,98.94 L610.36,98.26 L611.49,97.89 L612.63,97.86 L613.77,98.22 L614.90,99.01 L616.05,100.29 L617.22,102.13 L618.45,104.57 L619.76,107.66 L621.17,111.38 L622.66,115.71 L624.25,120.59 L625.90,125.93 L627.60,131.59 L629.30,137.40 L630.96,143.16 L632.51,148.64 L633.91,153.63 L635.11,157.93 L636.07,161.42 L636.78,164.01 L637.26,165.74 L637.52,166.71 L637.62,167.10 L637.64,167.16"/>
<path d="M569.43,211.23 L569.45,211.16 L569.56,210.71 L569.82,209.57 L570.29,207.53 L571.01,204.46 L571.97,200.34 L573.16,195.23 L574.56,189.28 L576.12,182.70 L577.77,175.75 L579.47,168.66 L581.17,161.67 L582.83,154.97 L584.41,148.70 L585.91,142.94 L587.31,137.75 L588.62,133.14 L589.85,129.08 L591.03,125.51 L592.17,122.35 L593.31,119.48 L594.44,116.84 L595.58,114.37 L596.72,112.03 L597.85,109.78 L598.99,107.62 L600.13,105.51 L601.26,103.47 L602.40,101.49 L603.54,99.60 L604.67,97.79 L605.81,96.11 L606.95,94.59 L608.08,93.24 L609.22,92.12 L610.36,91.26 L611.49,90.70 L612.63,90.49 L613.77,90.67 L614.90,91.30 L616.05,92.41 L617.22,94.08 L618.45,96.35 L619.76,99.26 L621.17,102.80 L622.66,106.94 L624.25,111.62 L625.90,116.76 L627.60,122.21 L629.30,127.81 L630.96,133.36 L632.51,138.66 L633.91,143.48 L635.11,147.63 L636.07,151.00 L636.78,153.51 L637.26,155.18 L637.52,156.12 L637.62,156.49 L637.64,156.55"/>
</g>
<path d="M569.43,215.21 L569.44,215.19 L569.47,215.08 L569.56,214.78 L569.71,214.22 L569.95,213.35 L570.29,212.13 L570.74,210.52 L571.30,208.52 L571.97,206.13 L572.74,203.38 L573.61,200.29 L574.56,196.92 L575.58,193.32 L576.66,189.54 L577.77,185.66 L578.90,181.74 L580.04,177.82 L581.17,173.97 L582.28,170.24 L583.37,166.64 L584.41,163.23 L585.42,160.01 L586.39,157.01 L587.31,154.22 L588.19,151.66 L589.04,149.31 L589.85,147.17 L590.64,145.22 L591.41,143.44 L592.17,141.81 L592.93,140.29 L593.69,138.88 L594.44,137.55 L595.20,136.29 L595.96,135.10 L596.72,133.95 L597.47,132.85 L598.23,131.78 L598.99,130.75 L599.75,129.74 L600.51,128.76 L601.26,127.81 L602.02,126.88 L602.78,125.98 L603.54,125.12 L604.30,124.30 L605.05,123.51 L605.81,122.78 L606.57,122.10 L607.33,121.49 L608.08,120.95 L608.84,120.50 L609.60,120.14 L610.36,119.87 L611.12,119.73 L611.87,119.70 L612.63,119.82 L613.39,120.08 L614.15,120.50 L614.90,121.09 L615.66,121.87 L616.43,122.85 L617.22,124.06 L618.03,125.51 L618.88,127.20 L619.76,129.14 L620.69,131.34 L621.65,133.78 L622.66,136.45 L623.71,139.34 L624.79,142.42 L625.90,145.67 L627.03,149.04 L628.17,152.49 L629.30,155.98 L630.42,159.45 L631.49,162.83 L632.51,166.07 L633.47,169.12 L634.33,171.91 L635.11,174.41 L635.78,176.58 L636.34,178.40 L636.78,179.86 L637.12,180.98 L637.36,181.77 L637.52,182.28 L637.60,182.56 L637.64,182.66 L637.64,182.68" fill="none" stroke="#ffdd00" stroke-width="2.8"/>
<path d="M569.43,228.00 L569.44,227.99 L569.47,227.90 L569.56,227.66 L569.71,227.23 L569.95,226.55 L570.29,225.60 L570.74,224.35 L571.30,222.79 L571.97,220.93 L572.74,218.78 L573.61,216.37 L574.56,213.74 L575.58,210.93 L576.66,207.99 L577.77,204.96 L578.90,201.90 L580.04,198.85 L581.17,195.85 L582.28,192.93 L583.37,190.13 L584.41,187.47 L585.42,184.96 L586.39,182.61 L587.31,180.44 L588.19,178.43 L589.04,176.60 L589.85,174.92 L590.64,173.40 L591.41,172.00 L592.17,170.72 L592.93,169.54 L593.69,168.42 L594.44,167.37 L595.20,166.36 L595.96,165.40 L596.72,164.46 L597.47,163.55 L598.23,162.66 L598.99,161.78 L599.75,160.92 L600.51,160.07 L601.26,159.24 L602.02,158.43 L602.78,157.64 L603.54,156.88 L604.30,156.15 L605.05,155.46 L605.81,154.82 L606.57,154.23 L607.33,153.71 L608.08,153.26 L608.84,152.90 L609.60,152.62 L610.36,152.45 L611.12,152.40 L611.87,152.46 L612.63,152.67 L613.39,153.01 L614.15,153.51 L614.90,154.18 L615.66,155.02 L616.43,156.06 L617.22,157.32 L618.03,158.80 L618.88,160.52 L619.76,162.49 L620.69,164.70 L621.65,167.15 L622.66,169.82 L623.71,172.71 L624.79,175.78 L625.90,179.02 L627.03,182.37 L628.17,185.81 L629.30,189.28 L630.42,192.72 L631.49,196.08 L632.51,199.30 L633.47,202.32 L634.33,205.09 L635.11,207.57 L635.78,209.72 L636.34,211.53 L636.78,212.98 L637.12,214.08 L637.36,214.87 L637.52,215.37 L637.60,215.65 L637.64,215.75 L637.64,215.77" fill="none" stroke="#ffdd00" stroke-width="2.8"/>
<path d="M569.43,221.61 L569.44,221.59 L569.47,221.49 L569.56,221.22 L569.71,220.72 L569.95,219.95 L570.29,218.86 L570.74,217.43 L571.30,215.65 L571.97,213.53 L572.74,211.08 L573.61,208.33 L574.56,205.33 L575.58,202.12 L576.66,198.77 L577.77,195.31 L578.90,191.82 L580.04,188.34 L581.17,184.91 L582.28,181.58 L583.37,178.39 L584.41,175.35 L585.42,172.48 L586.39,169.81 L587.31,167.33 L588.19,165.05 L589.04,162.95 L589.85,161.05 L590.64,159.31 L591.41,157.72 L592.17,156.26 L592.93,154.91 L593.69,153.65 L594.44,152.46 L595.20,151.33 L595.96,150.25 L596.72,149.21 L597.47,148.20 L598.23,147.22 L598.99,146.26 L599.75,145.33 L600.51,144.42 L601.26,143.52 L602.02,142.65 L602.78,141.81 L603.54,141.00 L604.30,140.22 L605.05,139.49 L605.81,138.80 L606.57,138.17 L607.33,137.60 L608.08,137.11 L608.84,136.70 L609.60,136.38 L610.36,136.16 L611.12,136.06 L611.87,136.08 L612.63,136.24 L613.39,136.55 L614.15,137.01 L614.90,137.64 L615.66,138.44 L616.43,139.46 L617.22,140.69 L618.03,142.15 L618.88,143.86 L619.76,145.82 L620.69,148.02 L621.65,150.46 L622.66,153.14 L623.71,156.02 L624.79,159.10 L625.90,162.34 L627.03,165.71 L628.17,169.15 L629.30,172.63 L630.42,176.08 L631.49,179.46 L632.51,182.69 L633.47,185.72 L634.33,188.50 L635.11,190.99 L635.78,193.15 L636.34,194.96 L636.78,196.42 L637.12,197.53 L637.36,198.32 L637.52,198.83 L637.60,199.10 L637.64,199.21 L637.64,199.22" fill="none" stroke="#f9474c" stroke-width="2.8"/>
<g fill="#4d4d4d" font-size="15.3">
<text x="53.96" y="401.80" textLength="6.84" lengthAdjust="spacingAndGlyphs">0</text>
<text x="47.12" y="332.29" textLength="13.68" lengthAdjust="spacingAndGlyphs">50</text>
<text x="40.28" y="262.78" textLength="20.52" lengthAdjust="spacingAndGlyphs">100</text>
<text x="40.28" y="193.26" textLength="20.52" lengthAdjust="spacingAndGlyphs">150</text>
<text x="40.28" y="123.75" textLength="20.52" lengthAdjust="spacingAndGlyphs">200</text>
<text x="78.32" y="426.95" textLength="27.36" lengthAdjust="spacingAndGlyphs">1920</text>
<text x="305.67" y="426.95" textLength="27.36" lengthAdjust="spacingAndGlyphs">1930</text>
<text x="533.02" y="426.95" textLength="27.36" lengthAdjust="spacingAndGlyphs">1940</text>
</g>
<text x="70.2" y="56.7" font-size="23.4" font-weight="bold" fill="#000" stroke="#000" stroke-width="0.35" textLength="588.9" lengthAdjust="spacingAndGlyphs">Advanced Klein Model GNP: stochastic simulation and forecast</text>
<g font-size="11.6" font-style="italic" fill="#000">
<text x="205.0" y="451.4" textLength="319" lengthAdjust="spacingAndGlyphs">GNP: historical in grey, static simulation in blue, absolute errors in light blue.</text>
<text x="144.9" y="464.8" textLength="440.3" lengthAdjust="spacingAndGlyphs">Forecast: stochastic realizations in light red, average in red, average +/- standard deviation in light yellow.</text>
</g>
</svg></body></html>
